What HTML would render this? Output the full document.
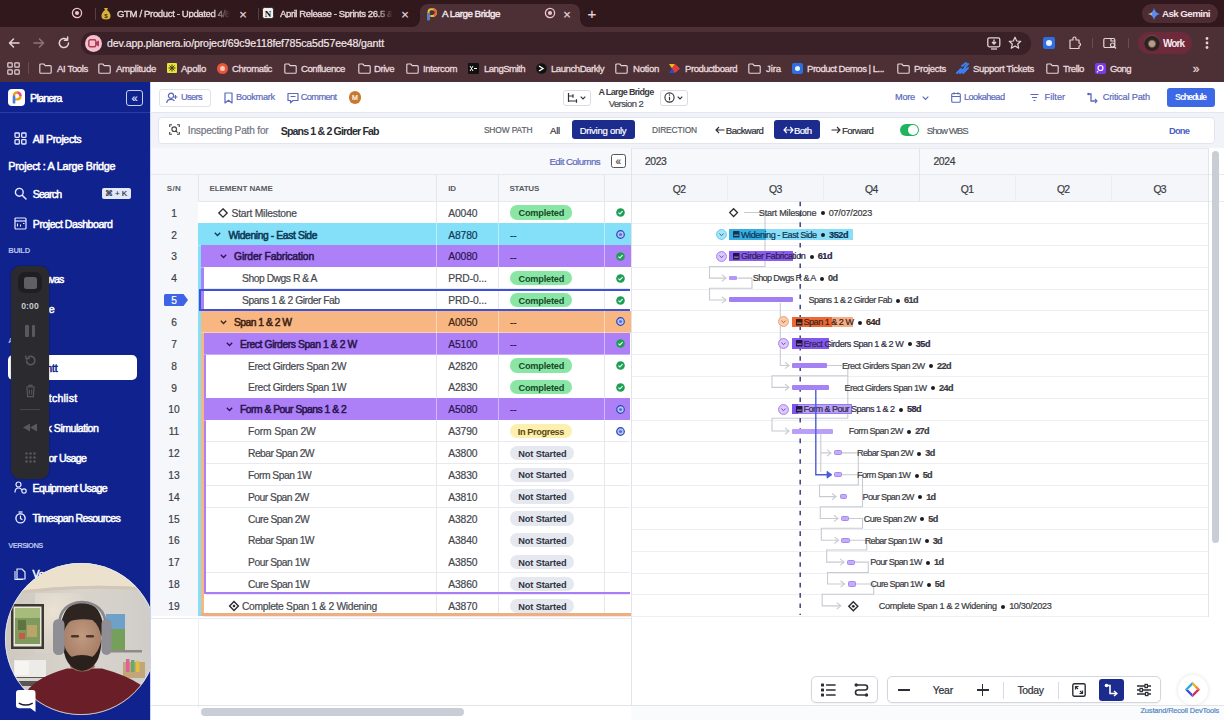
<!DOCTYPE html>
<html><head><meta charset="utf-8">
<style>
*{box-sizing:border-box;margin:0;padding:0}
html,body{width:1224px;height:720px;overflow:hidden;background:#fff;font-family:"Liberation Sans",sans-serif;position:relative}
.a{position:absolute}
.t{position:absolute;white-space:nowrap;line-height:1;-webkit-text-stroke:0.2px currentColor}
svg.a{overflow:visible}
.dt{display:inline-block;width:4px;height:4px;border-radius:50%;background:#1c1c20;margin:0 4px 0 4.4px;vertical-align:0.4px}
</style></head><body>
<div class="a" style="left:0px;top:0px;width:1224px;height:27px;background:#30181d;"></div>
<div class="a" style="left:0px;top:27px;width:1224px;height:55px;background:#4c3036;"></div>
<div class="a" style="left:412px;top:19px;width:8px;height:8px;background:#4c3036;"></div>
<div class="a" style="left:404px;top:11px;width:16px;height:16px;background:#30181d;border-radius:50%"></div>
<div class="a" style="left:580px;top:19px;width:8px;height:8px;background:#4c3036;"></div>
<div class="a" style="left:580px;top:11px;width:16px;height:16px;background:#30181d;border-radius:50%"></div>
<div class="a" style="left:420px;top:4px;width:160px;height:26px;background:#4c3036;border-radius:8px 8px 0 0"></div>
<svg class="a" style="left:70px;top:6px;" width="14" height="14" viewBox="0 0 14 14"><circle cx="7" cy="7" r="4.6" fill="none" stroke="#f0c3cb" stroke-width="1.3"/><circle cx="7" cy="7" r="2.1" fill="#f0c3cb"/></svg>
<div class="a" style="left:95px;top:8px;width:1px;height:12px;background:#5b3e44;"></div>
<svg class="a" style="left:100px;top:5px;" width="12" height="16" viewBox="0 0 12 16"><path d="M4 3 L8 3 L7 5 Q11 8 10.5 12 Q10 14.5 6 14.5 Q2 14.5 1.5 12 Q1 8 5 5Z" fill="#d6b23a"/><text x="6" y="12.5" font-size="6" text-anchor="middle" fill="#3a2a10" font-family="Liberation Sans" font-weight="bold">$</text></svg>
<div class="t" style="left:117.00px;top:8.80px;font-size:9.6px;color:#e6d5d8;letter-spacing:-0.377px;-webkit-text-stroke:0.35px currentColor;-webkit-mask-image:linear-gradient(90deg,#000 85%,transparent);">GTM / Product - Updated 4/8</div>
<div class="t" style="left:239.20px;top:7.63px;font-size:13px;color:#e6d5d8;">×</div>
<div class="a" style="left:258px;top:8px;width:1px;height:12px;background:#5b3e44;"></div>
<svg class="a" style="left:262px;top:7px;" width="12" height="12" viewBox="0 0 12 12"><rect x="0.5" y="0.5" width="11" height="11" rx="2" fill="#f4f0ef" stroke="#222" stroke-width="0.8"/><text x="6" y="9.5" font-size="9" text-anchor="middle" fill="#111" font-family="Liberation Serif" font-weight="bold">N</text></svg>
<div class="t" style="left:280.00px;top:8.80px;font-size:9.6px;color:#e6d5d8;letter-spacing:-0.428px;-webkit-text-stroke:0.35px currentColor;-webkit-mask-image:linear-gradient(90deg,#000 85%,transparent);">April Release - Sprints 26.5 &amp;</div>
<div class="t" style="left:401.20px;top:7.63px;font-size:13px;color:#e6d5d8;">×</div>
<svg class="a" style="left:425.5px;top:7.5px;" width="11" height="13" viewBox="0 0 11 13"><path d="M2.5 12 L2.5 4 Q2.5 1.2 5.2 1.2 L6.5 1.2 Q10 1.2 10 4.6 Q10 8 6.5 8 L4.3 8" fill="none" stroke="#e8c23a" stroke-width="2"/><path d="M2.5 12.5 L2.5 5" stroke="#4a7fe8" stroke-width="2.2"/><path d="M7.5 1.4 Q10 2 10 4.6 Q10 7 8 7.8" fill="none" stroke="#e8603a" stroke-width="2"/></svg>
<div class="t" style="left:442.00px;top:8.70px;font-size:9.8px;color:#f4e7ea;letter-spacing:-0.488px;-webkit-text-stroke:0.4px currentColor;">A Large Bridge</div>
<svg class="a" style="left:543px;top:6px;" width="14" height="14" viewBox="0 0 14 14"><circle cx="7" cy="7" r="4.6" fill="none" stroke="#f0c3cb" stroke-width="1.3"/><circle cx="7" cy="7" r="2.1" fill="#f0c3cb"/></svg>
<div class="t" style="left:563.20px;top:7.63px;font-size:13px;color:#e6d5d8;">×</div>
<div class="t" style="left:587.62px;top:6.35px;font-size:15px;color:#e6d5d8;">+</div>
<div class="a" style="left:1142px;top:4px;width:76px;height:19px;background:#4e2c33;border-radius:9px"></div>
<svg class="a" style="left:1148px;top:8px;" width="12" height="12" viewBox="0 0 12 12"><path d="M6 0 Q7 5 12 6 Q7 7 6 12 Q5 7 0 6 Q5 5 6 0Z" fill="#5b8def"/><path d="M0 6 Q3 5.6 4 5 L4 7 Q3 6.4 0 6Z" fill="#e6c35a"/></svg>
<div class="t" style="left:1162.00px;top:9.10px;font-size:9.8px;color:#f5e6e9;font-weight:bold;-webkit-text-stroke:0;letter-spacing:-0.591px;">Ask Gemini</div>
<svg class="a" style="left:7px;top:36px;" width="14" height="14" viewBox="0 0 14 14"><path d="M12 7 H2.5 M6.5 3 L2.5 7 L6.5 11" fill="none" stroke="#e4d3d6" stroke-width="1.5" stroke-linecap="round" stroke-linejoin="round"/></svg>
<svg class="a" style="left:32px;top:36px;" width="14" height="14" viewBox="0 0 14 14"><path d="M2 7 H11.5 M7.5 3 L11.5 7 L7.5 11" fill="none" stroke="#8e7479" stroke-width="1.5" stroke-linecap="round" stroke-linejoin="round"/></svg>
<svg class="a" style="left:57px;top:36px;" width="14" height="14" viewBox="0 0 14 14"><path d="M11.5 7 A4.6 4.6 0 1 1 10 3.6" fill="none" stroke="#e4d3d6" stroke-width="1.5" stroke-linecap="round"/><path d="M10.6 1 L10.6 4.2 L7.4 4.2" fill="none" stroke="#e4d3d6" stroke-width="1.5" stroke-linecap="round" stroke-linejoin="round"/></svg>
<div class="a" style="left:81px;top:32px;width:950px;height:23px;background:#3a2127;border-radius:12px"></div>
<div class="a" style="left:85px;top:34.5px;width:17px;height:17px;background:#f4bfce;border-radius:50%"></div>
<svg class="a" style="left:88px;top:39px;" width="12" height="9" viewBox="0 0 12 9"><rect x="0.8" y="0.8" width="7" height="7" rx="1.5" fill="none" stroke="#b23a55" stroke-width="1.4"/><path d="M8 3 L11 1.5 L11 7.5 L8 6Z" fill="#b23a55"/></svg>
<div class="t" style="left:107.00px;top:38.01px;font-size:10.6px;color:#f2e6e8;letter-spacing:-0.125px;">dev.app.planera.io/project/69c9e118fef785ca5d57ee48/gantt</div>
<svg class="a" style="left:987px;top:37px;" width="14" height="13" viewBox="0 0 14 13"><rect x="0.8" y="0.8" width="12" height="9" rx="1.5" fill="none" stroke="#e4d3d6" stroke-width="1.3"/><path d="M7 2.5 V7 M5 5 L7 7 L9 5" fill="none" stroke="#e4d3d6" stroke-width="1.3"/><path d="M4 12 H10" stroke="#e4d3d6" stroke-width="1.3"/></svg>
<svg class="a" style="left:1008px;top:36px;" width="14" height="14" viewBox="0 0 14 14"><path d="M7 1.2 L8.7 5 L12.8 5.3 L9.7 8 L10.7 12.2 L7 10 L3.3 12.2 L4.3 8 L1.2 5.3 L5.3 5Z" fill="none" stroke="#e4d3d6" stroke-width="1.2" stroke-linejoin="round"/></svg>
<div class="a" style="left:1043px;top:37px;width:12px;height:12px;background:#2f6ee0;border-radius:2px"></div>
<div class="a" style="left:1046px;top:40px;width:6px;height:6px;background:#e9f0ff;border-radius:50%"></div>
<svg class="a" style="left:1068px;top:36px;" width="14" height="14" viewBox="0 0 14 14"><path d="M2 4 H5 V2.5 Q5 1 6.5 1 Q8 1 8 2.5 V4 H11 V7 Q12.5 7 12.5 8.5 Q12.5 10 11 10 V12.5 H2 Z" fill="none" stroke="#e4d3d6" stroke-width="1.2" stroke-linejoin="round"/></svg>
<div class="a" style="left:1092px;top:38px;width:1px;height:10px;background:#6a4d53;"></div>
<svg class="a" style="left:1103px;top:37px;" width="15" height="13" viewBox="0 0 15 13"><rect x="0.8" y="1.5" width="11" height="9" rx="1.2" fill="none" stroke="#e4d3d6" stroke-width="1.2"/><path d="M8 1.5 V4 H12" fill="none" stroke="#e4d3d6" stroke-width="1.2"/><circle cx="9.5" cy="8" r="2" fill="none" stroke="#e4d3d6" stroke-width="1.1"/><path d="M11 9.5 L13 11.5" stroke="#e4d3d6" stroke-width="1.2"/></svg>
<div class="a" style="left:1128px;top:38px;width:1px;height:10px;background:#6a4d53;"></div>
<div class="a" style="left:1138px;top:32px;width:54px;height:22px;background:#6c2a3b;border-radius:11px"></div>
<div class="a" style="left:1144px;top:35px;width:16px;height:16px;border-radius:50%;background:radial-gradient(circle at 50% 55%,#b89c8a 0 22%,#2e2320 38% 62%,#5e524c 70%)"></div>
<div class="t" style="left:1163.00px;top:38.60px;font-size:10px;color:#f7e9ec;font-weight:bold;-webkit-text-stroke:0;letter-spacing:-0.957px;">Work</div>
<svg class="a" style="left:1204px;top:36px;" width="6" height="14" viewBox="0 0 6 14"><circle cx="3" cy="2.5" r="1.4" fill="#e4d3d6"/><circle cx="3" cy="7" r="1.4" fill="#e4d3d6"/><circle cx="3" cy="11.5" r="1.4" fill="#e4d3d6"/></svg>
<svg class="a" style="left:7px;top:62px;" width="13" height="13" viewBox="0 0 13 13"><g fill="none" stroke="#e4d3d6" stroke-width="1.2"><rect x="0.8" y="0.8" width="4.4" height="4.4" rx="0.8"/><rect x="7.8" y="0.8" width="4.4" height="4.4" rx="0.8"/><rect x="0.8" y="7.8" width="4.4" height="4.4" rx="0.8"/><rect x="7.8" y="7.8" width="4.4" height="4.4" rx="0.8"/></g></svg>
<div class="a" style="left:28px;top:62px;width:1px;height:12px;background:#6a4d53;"></div>
<svg class="a" style="left:38.5px;top:62.5px;" width="13" height="11" viewBox="0 0 13 11"><path d="M0.8 2 Q0.8 1 1.8 1 H4.8 L6.2 2.6 H11.2 Q12.2 2.6 12.2 3.6 V9.2 Q12.2 10.2 11.2 10.2 H1.8 Q0.8 10.2 0.8 9.2Z" fill="none" stroke="#e4d3d6" stroke-width="1.15" stroke-linejoin="round"/></svg>
<div class="t" style="left:57.00px;top:63.80px;font-size:9.6px;color:#eadbde;letter-spacing:-0.369px;-webkit-text-stroke:0.3px currentColor;">AI Tools</div>
<svg class="a" style="left:97.5px;top:62.5px;" width="13" height="11" viewBox="0 0 13 11"><path d="M0.8 2 Q0.8 1 1.8 1 H4.8 L6.2 2.6 H11.2 Q12.2 2.6 12.2 3.6 V9.2 Q12.2 10.2 11.2 10.2 H1.8 Q0.8 10.2 0.8 9.2Z" fill="none" stroke="#e4d3d6" stroke-width="1.15" stroke-linejoin="round"/></svg>
<div class="t" style="left:116.00px;top:63.80px;font-size:9.6px;color:#eadbde;letter-spacing:-0.297px;-webkit-text-stroke:0.3px currentColor;">Amplitude</div>
<div class="a" style="left:167px;top:63px;width:10px;height:10px;background:#e9e33a;border-radius:1px"></div><svg class="a" style="left:167px;top:63px" width="10" height="10"><path d="M5 1.5 V8.5 M1.5 5 H8.5 M2.5 2.5 L7.5 7.5 M7.5 2.5 L2.5 7.5" stroke="#3a3a10" stroke-width="1"/></svg>
<div class="t" style="left:181.00px;top:63.80px;font-size:9.6px;color:#eadbde;letter-spacing:-0.279px;-webkit-text-stroke:0.3px currentColor;">Apollo</div>
<div class="a" style="left:217px;top:63px;width:11px;height:11px;background:#e8563a;border-radius:50%"></div><div class="a" style="left:220px;top:66px;width:5px;height:5px;background:#f7c7b5;border-radius:50%"></div>
<div class="t" style="left:232.00px;top:63.80px;font-size:9.6px;color:#eadbde;letter-spacing:-0.413px;-webkit-text-stroke:0.3px currentColor;">Chromatic</div>
<svg class="a" style="left:283.5px;top:62.5px;" width="13" height="11" viewBox="0 0 13 11"><path d="M0.8 2 Q0.8 1 1.8 1 H4.8 L6.2 2.6 H11.2 Q12.2 2.6 12.2 3.6 V9.2 Q12.2 10.2 11.2 10.2 H1.8 Q0.8 10.2 0.8 9.2Z" fill="none" stroke="#e4d3d6" stroke-width="1.15" stroke-linejoin="round"/></svg>
<div class="t" style="left:301.00px;top:63.80px;font-size:9.6px;color:#eadbde;letter-spacing:-0.455px;-webkit-text-stroke:0.3px currentColor;">Confluence</div>
<svg class="a" style="left:357.5px;top:62.5px;" width="13" height="11" viewBox="0 0 13 11"><path d="M0.8 2 Q0.8 1 1.8 1 H4.8 L6.2 2.6 H11.2 Q12.2 2.6 12.2 3.6 V9.2 Q12.2 10.2 11.2 10.2 H1.8 Q0.8 10.2 0.8 9.2Z" fill="none" stroke="#e4d3d6" stroke-width="1.15" stroke-linejoin="round"/></svg>
<div class="t" style="left:374.00px;top:63.80px;font-size:9.6px;color:#eadbde;letter-spacing:-0.478px;-webkit-text-stroke:0.3px currentColor;">Drive</div>
<svg class="a" style="left:405.5px;top:62.5px;" width="13" height="11" viewBox="0 0 13 11"><path d="M0.8 2 Q0.8 1 1.8 1 H4.8 L6.2 2.6 H11.2 Q12.2 2.6 12.2 3.6 V9.2 Q12.2 10.2 11.2 10.2 H1.8 Q0.8 10.2 0.8 9.2Z" fill="none" stroke="#e4d3d6" stroke-width="1.15" stroke-linejoin="round"/></svg>
<div class="t" style="left:423.00px;top:63.80px;font-size:9.6px;color:#eadbde;letter-spacing:-0.416px;-webkit-text-stroke:0.3px currentColor;">Intercom</div>
<div class="a" style="left:468px;top:63px;width:11px;height:11px;background:#111;border-radius:1px"></div><svg class="a" style="left:468px;top:63px" width="11" height="11"><path d="M2 3 L5 8 M5 3 L2 8 M6 5.5 H9" stroke="#fff" stroke-width="1"/></svg>
<div class="t" style="left:484.00px;top:63.80px;font-size:9.6px;color:#eadbde;letter-spacing:-0.542px;-webkit-text-stroke:0.3px currentColor;">LangSmith</div>
<svg class="a" style="left:536px;top:63px" width="11" height="11"><circle cx="5.5" cy="5.5" r="5.3" fill="#111"/><path d="M3 3 L7 5.5 L3 8" fill="none" stroke="#fff" stroke-width="1.4"/></svg>
<div class="t" style="left:551.00px;top:63.80px;font-size:9.6px;color:#eadbde;letter-spacing:-0.473px;-webkit-text-stroke:0.3px currentColor;">LaunchDarkly</div>
<svg class="a" style="left:614.5px;top:62.5px;" width="13" height="11" viewBox="0 0 13 11"><path d="M0.8 2 Q0.8 1 1.8 1 H4.8 L6.2 2.6 H11.2 Q12.2 2.6 12.2 3.6 V9.2 Q12.2 10.2 11.2 10.2 H1.8 Q0.8 10.2 0.8 9.2Z" fill="none" stroke="#e4d3d6" stroke-width="1.15" stroke-linejoin="round"/></svg>
<div class="t" style="left:633.00px;top:63.80px;font-size:9.6px;color:#eadbde;letter-spacing:-0.289px;-webkit-text-stroke:0.3px currentColor;">Notion</div>
<svg class="a" style="left:669px;top:63px" width="11" height="11"><path d="M0 1 L6 1 L3 5.5Z" fill="#f4b41a"/><path d="M0 10 L6 10 L3 5.5Z" fill="#1d4ed8"/><path d="M6 1 L11 5.5 L6 10 L3 5.5Z" fill="#e23d3d"/></svg>
<div class="t" style="left:685.00px;top:63.80px;font-size:9.6px;color:#eadbde;letter-spacing:-0.467px;-webkit-text-stroke:0.3px currentColor;">Productboard</div>
<svg class="a" style="left:747.5px;top:62.5px;" width="13" height="11" viewBox="0 0 13 11"><path d="M0.8 2 Q0.8 1 1.8 1 H4.8 L6.2 2.6 H11.2 Q12.2 2.6 12.2 3.6 V9.2 Q12.2 10.2 11.2 10.2 H1.8 Q0.8 10.2 0.8 9.2Z" fill="none" stroke="#e4d3d6" stroke-width="1.15" stroke-linejoin="round"/></svg>
<div class="t" style="left:766.00px;top:63.80px;font-size:9.6px;color:#eadbde;letter-spacing:-0.117px;-webkit-text-stroke:0.3px currentColor;">Jira</div>
<div class="a" style="left:792px;top:63px;width:11px;height:11px;background:#2f6ee0;border-radius:2px"></div><div class="a" style="left:795px;top:66px;width:5px;height:5px;background:#e9f0ff;border-radius:50%"></div>
<div class="t" style="left:807.00px;top:63.80px;font-size:9.6px;color:#eadbde;letter-spacing:-0.514px;-webkit-text-stroke:0.3px currentColor;">Product Demos | L...</div>
<svg class="a" style="left:896.5px;top:62.5px;" width="13" height="11" viewBox="0 0 13 11"><path d="M0.8 2 Q0.8 1 1.8 1 H4.8 L6.2 2.6 H11.2 Q12.2 2.6 12.2 3.6 V9.2 Q12.2 10.2 11.2 10.2 H1.8 Q0.8 10.2 0.8 9.2Z" fill="none" stroke="#e4d3d6" stroke-width="1.15" stroke-linejoin="round"/></svg>
<div class="t" style="left:914.00px;top:63.80px;font-size:9.6px;color:#eadbde;letter-spacing:-0.332px;-webkit-text-stroke:0.3px currentColor;">Projects</div>
<svg class="a" style="left:956px;top:62px" width="13" height="12"><path d="M1 11 L5 7 M4 11 L9 6 M7 11 L12 6 M6 4 L10 1 M9 5 L12 2" stroke="#3b82f6" stroke-width="2" stroke-linecap="round"/></svg>
<div class="t" style="left:973.00px;top:63.80px;font-size:9.6px;color:#eadbde;letter-spacing:-0.342px;-webkit-text-stroke:0.3px currentColor;">Support Tickets</div>
<svg class="a" style="left:1045.5px;top:62.5px;" width="13" height="11" viewBox="0 0 13 11"><path d="M0.8 2 Q0.8 1 1.8 1 H4.8 L6.2 2.6 H11.2 Q12.2 2.6 12.2 3.6 V9.2 Q12.2 10.2 11.2 10.2 H1.8 Q0.8 10.2 0.8 9.2Z" fill="none" stroke="#e4d3d6" stroke-width="1.15" stroke-linejoin="round"/></svg>
<div class="t" style="left:1063.00px;top:63.80px;font-size:9.6px;color:#eadbde;letter-spacing:-0.440px;-webkit-text-stroke:0.3px currentColor;">Trello</div>
<div class="a" style="left:1095px;top:63px;width:11px;height:11px;background:#7c3aed;border-radius:2px"></div><svg class="a" style="left:1095px;top:63px" width="11" height="11"><circle cx="5.5" cy="5" r="2.5" fill="none" stroke="#fff" stroke-width="1.2"/><path d="M3 8 L2 9.5" stroke="#fff" stroke-width="1.2"/></svg>
<div class="t" style="left:1110.00px;top:63.80px;font-size:9.6px;color:#eadbde;letter-spacing:-0.621px;-webkit-text-stroke:0.3px currentColor;">Gong</div>
<div class="t" style="left:1192.66px;top:63.22px;font-size:12px;color:#eadbde;">»</div>
<div class="a" style="left:0px;top:82px;width:150px;height:638px;background:#10228e;"></div>
<div class="a" style="left:0px;top:112px;width:150px;height:1px;background:#2a3aa8;"></div>
<div class="a" style="left:8px;top:89px;width:17px;height:17px;background:#fff;border-radius:4px"></div>
<svg class="a" style="left:11px;top:91px;" width="11" height="13" viewBox="0 0 11 13"><path d="M3 12 L3 4.5 Q3 1.5 6 1.5 Q9.5 1.5 9.5 5 Q9.5 8.3 6 8.3 L4 8.3" fill="none" stroke="#f59e0b" stroke-width="2.3"/><path d="M3 12.5 L3 4.5" stroke="#3b82f6" stroke-width="2.5"/><path d="M6.5 1.6 Q9.5 2 9.5 5" fill="none" stroke="#ec4899" stroke-width="2.3"/></svg>
<div class="t" style="left:30.00px;top:92.81px;font-size:11px;color:#fff;letter-spacing:-0.917px;-webkit-text-stroke:0.5px currentColor;">Planera</div>
<div class="a" style="left:126px;top:89.5px;width:17px;height:16.5px;background:transparent;border:1px solid #c9d0f0;border-radius:3px"></div>
<div class="t" style="left:131.44px;top:92.61px;font-size:11px;color:#e6eaff;">«</div>
<svg class="a" style="left:14px;top:132.1px;" width="13" height="13" viewBox="0 0 13 13"><g fill="none" stroke="#e8ecff" stroke-width="1.3"><rect x="1" y="1" width="4.3" height="4.3" rx="0.8"/><rect x="7.7" y="1" width="4.3" height="4.3" rx="0.8"/><rect x="1" y="7.7" width="4.3" height="4.3" rx="0.8"/><rect x="7.7" y="7.7" width="4.3" height="4.3" rx="0.8"/></g></svg>
<div class="t" style="left:32.80px;top:134.11px;font-size:10.6px;color:#ffffff;letter-spacing:-0.374px;-webkit-text-stroke:0.5px currentColor;">All Projects</div>
<div class="t" style="left:8.30px;top:160.91px;font-size:10.8px;color:#ffffff;letter-spacing:-0.268px;-webkit-text-stroke:0.5px currentColor;">Project : A Large Bridge</div>
<svg class="a" style="left:14px;top:186.8px;" width="13" height="13" viewBox="0 0 13 13"><circle cx="5.3" cy="5.3" r="3.9" fill="none" stroke="#e8ecff" stroke-width="1.4"/><path d="M8.2 8.2 L12 12" stroke="#e8ecff" stroke-width="1.5" stroke-linecap="round"/></svg>
<div class="t" style="left:32.80px;top:188.51px;font-size:10.6px;color:#ffffff;letter-spacing:-0.846px;-webkit-text-stroke:0.5px currentColor;">Search</div>
<div class="a" style="left:101.5px;top:188px;width:29px;height:11px;background:#e3e8f8;border-radius:2px"></div>
<div class="t" style="left:105.00px;top:190.28px;font-size:8px;color:#2a2f45;letter-spacing:-0.091px;">⌘ + K</div>
<svg class="a" style="left:14px;top:216.8px;" width="13" height="13" viewBox="0 0 13 13"><rect x="1" y="1" width="11" height="11" rx="1" fill="none" stroke="#e8ecff" stroke-width="1.2"/><path d="M1 4 H12" stroke="#e8ecff" stroke-width="1.2"/><path d="M3.5 6.5 V9.5 M6.5 7.5 V9.5 M9 6.5 H10.5" stroke="#e8ecff" stroke-width="1.1"/></svg>
<div class="t" style="left:32.80px;top:218.81px;font-size:10.6px;color:#ffffff;letter-spacing:-0.485px;-webkit-text-stroke:0.5px currentColor;">Project Dashboard</div>
<div class="t" style="left:8.30px;top:247.48px;font-size:7.6px;color:#b9c2ee;font-weight:bold;-webkit-text-stroke:0;letter-spacing:-0.341px;">BUILD</div>
<div class="t" style="left:32.80px;top:273.51px;font-size:10.6px;color:#ffffff;letter-spacing:-0.904px;-webkit-text-stroke:0.5px currentColor;">Canvas</div>
<div class="t" style="left:32.80px;top:303.51px;font-size:10.6px;color:#ffffff;letter-spacing:0.152px;-webkit-text-stroke:0.5px currentColor;">Tree</div>
<div class="t" style="left:8.30px;top:336.98px;font-size:7.6px;color:#b9c2ee;font-weight:bold;-webkit-text-stroke:0;letter-spacing:0.118px;">ANALYZE</div>
<div class="a" style="left:8px;top:355px;width:129px;height:25px;background:#fff;border-radius:5px"></div>
<div class="t" style="left:32.80px;top:363.31px;font-size:10.6px;color:#10228e;letter-spacing:-0.284px;-webkit-text-stroke:0.5px currentColor;">Gantt</div>
<div class="t" style="left:32.80px;top:392.51px;font-size:10.6px;color:#ffffff;letter-spacing:0.214px;-webkit-text-stroke:0.5px currentColor;">Watchlist</div>
<div class="t" style="left:32.80px;top:422.51px;font-size:10.6px;color:#ffffff;letter-spacing:-0.501px;-webkit-text-stroke:0.5px currentColor;">Risk Simulation</div>
<div class="t" style="left:32.80px;top:452.51px;font-size:10.6px;color:#ffffff;letter-spacing:-0.652px;-webkit-text-stroke:0.5px currentColor;">Labor Usage</div>
<svg class="a" style="left:14px;top:480.5px;" width="13" height="13" viewBox="0 0 13 13"><circle cx="4.5" cy="3.5" r="2.5" fill="none" stroke="#e8ecff" stroke-width="1.2"/><path d="M1 11.5 Q1 7 4.5 7 Q7 7 8 9" fill="none" stroke="#e8ecff" stroke-width="1.2"/><circle cx="10" cy="10" r="2.2" fill="none" stroke="#e8ecff" stroke-width="1.2"/></svg>
<div class="t" style="left:32.50px;top:482.51px;font-size:10.6px;color:#ffffff;letter-spacing:-0.648px;-webkit-text-stroke:0.5px currentColor;">Equipment Usage</div>
<svg class="a" style="left:14px;top:510.5px;" width="13" height="13" viewBox="0 0 13 13"><circle cx="6.5" cy="7.3" r="4.6" fill="none" stroke="#e8ecff" stroke-width="1.4"/><path d="M6.5 4.6 V7.6 L8.5 8.8" fill="none" stroke="#e8ecff" stroke-width="1.2"/><path d="M4.5 1 H8.5" stroke="#e8ecff" stroke-width="1.3"/></svg>
<div class="t" style="left:32.50px;top:512.51px;font-size:10.6px;color:#ffffff;letter-spacing:-0.678px;-webkit-text-stroke:0.5px currentColor;">Timespan Resources</div>
<div class="t" style="left:8.30px;top:542.48px;font-size:7.6px;color:#b9c2ee;font-weight:bold;-webkit-text-stroke:0;letter-spacing:-0.594px;">VERSIONS</div>
<svg class="a" style="left:14px;top:566.5px;" width="13" height="13" viewBox="0 0 13 13"><path d="M3 2 H8 L11 5 V12 H3Z" fill="none" stroke="#e8ecff" stroke-width="1.2"/><path d="M1 4 V12.5 H9" fill="none" stroke="#e8ecff" stroke-width="1.1"/></svg>
<div class="t" style="left:32.50px;top:568.51px;font-size:10.6px;color:#ffffff;letter-spacing:-0.330px;-webkit-text-stroke:0.5px currentColor;">Versions</div>
<div class="a" style="left:10.5px;top:265.5px;width:38.5px;height:213.5px;background:#2b2b2f;border-radius:9px;box-shadow:0 0 2px rgba(0,0,0,.4)"></div>
<div class="a" style="left:18px;top:272px;width:24px;height:21px;background:#1f1f23;border-radius:7px"></div>
<div class="a" style="left:23.5px;top:276.5px;width:13px;height:12px;background:#5f5f64;border-radius:2.5px"></div>
<div class="t" style="left:21.25px;top:302.09px;font-size:8.6px;color:#c9c9cd;font-weight:bold;-webkit-text-stroke:0;letter-spacing:0.074px;">0:00</div>
<div class="a" style="left:25px;top:325px;width:3.6px;height:11.5px;background:#58585d;border-radius:1px"></div>
<div class="a" style="left:31.5px;top:325px;width:3.6px;height:11.5px;background:#58585d;border-radius:1px"></div>
<svg class="a" style="left:23.5px;top:353.5px;" width="13" height="13" viewBox="0 0 13 13"><path d="M2.5 6.5 A4.2 4.2 0 1 0 4 3.3" fill="none" stroke="#58585d" stroke-width="1.6"/><path d="M1.5 1.5 L2.5 5 L5.8 4" fill="none" stroke="#58585d" stroke-width="1.4"/></svg>
<svg class="a" style="left:24.5px;top:384px;" width="11" height="14" viewBox="0 0 11 14"><path d="M1 3 H10 M4 3 V1.3 H7 V3" fill="none" stroke="#58585d" stroke-width="1.2"/><path d="M2 3.5 L2.6 12.6 H8.4 L9 3.5" fill="none" stroke="#58585d" stroke-width="1.2"/><path d="M4.3 5.5 V10.5 M6.7 5.5 V10.5" stroke="#58585d" stroke-width="1"/></svg>
<div class="a" style="left:20px;top:408.5px;width:20px;height:1px;background:#45454a;"></div>
<svg class="a" style="left:22px;top:422.5px;" width="16" height="9" viewBox="0 0 16 9"><path d="M8 0.5 L1 4.5 L8 8.5Z M15 0.5 L8 4.5 L15 8.5Z" fill="#58585d"/></svg>
<svg class="a" style="left:24.5px;top:451.5px;" width="11" height="11" viewBox="0 0 11 11"><g fill="#58585d"><circle cx="1.5" cy="1.5" r="1.2"/><circle cx="5.5" cy="1.5" r="1.2"/><circle cx="9.5" cy="1.5" r="1.2"/><circle cx="1.5" cy="5.5" r="1.2"/><circle cx="5.5" cy="5.5" r="1.2"/><circle cx="9.5" cy="5.5" r="1.2"/><circle cx="1.5" cy="9.5" r="1.2"/><circle cx="5.5" cy="9.5" r="1.2"/><circle cx="9.5" cy="9.5" r="1.2"/></g></svg>
<svg class="a" style="left:5px;top:562.5px" width="152" height="152" viewBox="0 0 152 152">
<defs><clipPath id="cc"><circle cx="76" cy="76" r="76"/></clipPath>
<radialGradient id="face" cx="50%" cy="40%" r="60%"><stop offset="0" stop-color="#c29a80"/><stop offset="1" stop-color="#a27a62"/></radialGradient>
<radialGradient id="lamp" cx="30%" cy="30%" r="60%"><stop offset="0" stop-color="#f3ead8"/><stop offset="1" stop-color="#d8d2c9"/></radialGradient>
<linearGradient id="wall" x1="0" y1="0" x2="1" y2="0"><stop offset="0" stop-color="#cdc8c0"/><stop offset="0.5" stop-color="#d9d4cc"/><stop offset="1" stop-color="#cfccc8"/></linearGradient>
</defs>
<g clip-path="url(#cc)">
<rect width="152" height="152" fill="url(#wall)"/>
<rect x="30" y="30" width="60" height="60" fill="url(#lamp)" opacity="0.7"/>
<path d="M0 0 H152 V26 Q80 18 0 30Z" fill="#ece1cc"/>
<path d="M0 30 Q80 18 152 26 V29 Q80 21 0 33Z" fill="#d2c7b6"/>
<rect x="6" y="41" width="33" height="45" fill="#3d3731"/>
<rect x="8.5" y="43.5" width="28" height="40" fill="#e9e6dc"/>
<rect x="10" y="45" width="25" height="36" fill="#7f9a5c"/>
<rect x="10" y="45" width="25" height="10" fill="#a7bb7c"/>
<rect x="13" y="57" width="8" height="10" fill="#5f7440"/>
<rect x="22" y="62" width="10" height="12" fill="#b9a56a"/>
<rect x="14" y="70" width="6" height="6" fill="#c45a4a"/>
<rect x="101" y="51" width="19" height="36" fill="#6fa0c8"/>
<rect x="101" y="66" width="19" height="21" fill="#74a05c"/>
<rect x="99" y="87" width="38" height="2.5" fill="#8f8a85"/>
<rect x="9" y="97" width="32" height="18" fill="#ecebe7"/>
<rect x="10" y="98" width="14" height="14" fill="#f6f5f2"/>
<rect x="5" y="114" width="42" height="9" fill="#5a5552"/>
<rect x="6" y="115" width="40" height="3" fill="#d9d7d2"/>
<rect x="118" y="99" width="22" height="16" fill="#c2a67a"/>
<rect x="121" y="96" width="3.5" height="13" fill="#e0609a"/>
<rect x="126" y="97" width="3.5" height="12" fill="#6aa86a"/>
<rect x="131" y="98" width="3.5" height="11" fill="#e0c040"/>
<path d="M16 152 L22 128 Q32 114 62 105.5 L97 105.5 Q121 112 136 122 L142 152Z" fill="#6a1f28"/>
<path d="M65 104 Q77 113 90 104 L88 98 L67 98Z" fill="#9c705a"/>
<ellipse cx="77" cy="64" rx="21" ry="24" fill="#2e2520"/><ellipse cx="77" cy="78" rx="19.5" ry="25" fill="url(#face)"/>
<path d="M57.5 76 Q58 106 77 108 Q96 106 96.5 76 Q93 96 77 98 Q61 96 57.5 76Z" fill="#2a201c"/>
<path d="M66 94 Q77 90 88 94 Q86 101 77 102 Q68 101 66 94Z" fill="#2a201c"/>
<path d="M57.5 68 Q55 40 77 40 Q99 40 96.5 68 Q95 58 88 57 Q72 55 63 59 Q58.5 62 57.5 68Z" fill="#2e2520"/>
<path d="M54 62 Q55 40 77 39 Q99 40 101 62" fill="none" stroke="#86868c" stroke-width="2.5"/>
<rect x="48" y="56" width="11.5" height="36" rx="5.5" fill="#8e8e94"/>
<rect x="96.5" y="56" width="10" height="36" rx="5" fill="#8e8e94"/>
<rect x="66" y="72" width="8" height="2.6" rx="1.3" fill="#4a352c"/>
<rect x="81" y="72" width="8" height="2.6" rx="1.3" fill="#4a352c"/>
</g>
<circle cx="76" cy="76" r="75.6" fill="none" stroke="#e3e8f4" stroke-width="0.8"/>
</svg>
<svg class="a" style="left:15.5px;top:689.8px;" width="20" height="22" viewBox="0 0 20 22"><path d="M3 0 H16.5 Q19.5 0 19.5 3 V22 L14.5 18.3 H3 Q0 18.3 0 15.3 V3 Q0 0 3 0Z" fill="#fff"/><path d="M3.3 13.3 Q9.8 16.8 16.2 13.3" fill="none" stroke="#1a1f3a" stroke-width="1.4" stroke-linecap="round"/></svg>
<div class="a" style="left:150px;top:82px;width:1074px;height:638px;background:#ffffff;"></div>
<div class="a" style="left:150px;top:82px;width:1px;height:638px;background:#c9d2f0;"></div>
<div class="a" style="left:150px;top:111.5px;width:1074px;height:1px;background:#e3e6ee;"></div>
<div class="a" style="left:158.5px;top:88.5px;width:52.5px;height:18px;background:#fff;border:1px solid #dfe3ec;border-radius:3px"></div>
<svg class="a" style="left:166px;top:91.5px;" width="12" height="12" viewBox="0 0 12 12"><circle cx="5" cy="3.8" r="2.6" fill="none" stroke="#5a69bd" stroke-width="1.2"/><path d="M0.8 11 Q0.8 7.4 5 7.4 Q7.5 7.4 8.5 9" fill="none" stroke="#5a69bd" stroke-width="1.2"/><path d="M9.5 3 V7 M7.5 5 H11.5" stroke="#5a69bd" stroke-width="1.1"/></svg>
<div class="t" style="left:181.00px;top:93.09px;font-size:9.2px;color:#5a69bd;letter-spacing:-0.600px;">Users</div>
<svg class="a" style="left:223.5px;top:91.5px;" width="9" height="12" viewBox="0 0 9 12"><path d="M1 1 H8 V11 L4.5 8.3 L1 11Z" fill="none" stroke="#5a69bd" stroke-width="1.2" stroke-linejoin="round"/></svg>
<div class="t" style="left:236.00px;top:93.09px;font-size:9.2px;color:#5a69bd;letter-spacing:-0.332px;">Bookmark</div>
<svg class="a" style="left:287px;top:91.5px;" width="12" height="12" viewBox="0 0 12 12"><path d="M1 1.5 H11 V8.5 H6 L3.5 10.8 V8.5 H1Z" fill="none" stroke="#5a69bd" stroke-width="1.2" stroke-linejoin="round"/><path d="M3.5 4.5 H8.5" stroke="#5a69bd" stroke-width="1"/></svg>
<div class="t" style="left:300.80px;top:93.09px;font-size:9.2px;color:#5a69bd;letter-spacing:-0.590px;">Comment</div>
<div class="a" style="left:348.8px;top:91.3px;width:12.4px;height:12.4px;background:#c8792f;border-radius:50%"></div>
<div class="t" style="left:352.08px;top:94.17px;font-size:7px;color:#fff;">M</div>
<div class="a" style="left:562.5px;top:89.5px;width:28px;height:16.5px;background:#fff;border:1px solid #d9dce4;border-radius:3px"></div>
<svg class="a" style="left:567px;top:92px;" width="11" height="11" viewBox="0 0 11 11"><path d="M1.5 1 V10 M1.5 4 H6 M6 2.3 V5.7 M1.5 9 H9.5 M9.5 7.3 V10.7" fill="none" stroke="#333" stroke-width="1.2"/></svg>
<svg class="a" style="left:580px;top:95.5px;" width="6" height="4" viewBox="0 0 6 4"><path d="M0.7 0.7 L3 3 L5.3 0.7" fill="none" stroke="#333" stroke-width="1.1"/></svg>
<div class="t" style="left:598.50px;top:87.59px;font-size:9.0px;color:#3a3b42;font-weight:bold;-webkit-text-stroke:0;letter-spacing:-0.656px;">A Large Bridge</div>
<div class="t" style="left:608.65px;top:99.49px;font-size:9.4px;color:#44464d;letter-spacing:-0.488px;">Version 2</div>
<div class="a" style="left:659.5px;top:89.5px;width:28px;height:16.5px;background:#fff;border:1px solid #d9dce4;border-radius:3px"></div>
<svg class="a" style="left:663.5px;top:92px;" width="11" height="11" viewBox="0 0 11 11"><circle cx="5.5" cy="5.5" r="4.6" fill="none" stroke="#333" stroke-width="1.1"/><path d="M5.5 4.8 V8.3" stroke="#333" stroke-width="1.2"/><circle cx="5.5" cy="3.1" r="0.75" fill="#333"/></svg>
<svg class="a" style="left:677px;top:95.5px;" width="6" height="4" viewBox="0 0 6 4"><path d="M0.7 0.7 L3 3 L5.3 0.7" fill="none" stroke="#333" stroke-width="1.1"/></svg>
<div class="t" style="left:895.00px;top:93.09px;font-size:9.2px;color:#5a69bd;letter-spacing:-0.234px;">More</div>
<svg class="a" style="left:922px;top:95.5px;" width="7" height="4.5" viewBox="0 0 7 4.5"><path d="M0.7 0.7 L3.5 3.5 L6.3 0.7" fill="none" stroke="#5a69bd" stroke-width="1.1"/></svg>
<svg class="a" style="left:950.5px;top:92px;" width="10" height="11" viewBox="0 0 10 11"><rect x="0.7" y="1.5" width="8.6" height="8.8" rx="1" fill="none" stroke="#5a69bd" stroke-width="1.1"/><path d="M0.7 4.5 H9.3 M3 0.3 V2.5 M7 0.3 V2.5" stroke="#5a69bd" stroke-width="1.1"/></svg>
<div class="t" style="left:964.00px;top:93.09px;font-size:9.2px;color:#5a69bd;letter-spacing:-0.554px;">Lookahead</div>
<svg class="a" style="left:1030px;top:93px;" width="9" height="9" viewBox="0 0 9 9"><path d="M0.5 1.5 H8.5 M2 4.5 H7 M3.5 7.5 H5.5" stroke="#5a69bd" stroke-width="1.2"/></svg>
<div class="t" style="left:1044.60px;top:93.09px;font-size:9.2px;color:#5a69bd;letter-spacing:0.013px;">Filter</div>
<svg class="a" style="left:1086.5px;top:92px;" width="11" height="11" viewBox="0 0 11 11"><path d="M1 2 H4 V9 H10" fill="none" stroke="#5a69bd" stroke-width="1.3"/><circle cx="1.5" cy="2" r="1.3" fill="#5a69bd"/><path d="M8 7 L10 9 L8 11" fill="none" stroke="#5a69bd" stroke-width="1.1"/></svg>
<div class="t" style="left:1102.70px;top:93.09px;font-size:9.2px;color:#5a69bd;letter-spacing:-0.179px;">Critical Path</div>
<div class="a" style="left:1166.5px;top:88px;width:48px;height:19px;background:#3d69e6;border-radius:3px"></div>
<div class="t" style="left:1175.00px;top:93.49px;font-size:9.0px;color:#fff;font-weight:bold;-webkit-text-stroke:0;letter-spacing:-1.127px;">Schedule</div>
<div class="a" style="left:151px;top:112.5px;width:1073px;height:35.5px;background:#f1f3f9;"></div>
<div class="a" style="left:158.2px;top:117px;width:1056.5px;height:26.5px;background:#fff;border:1px solid #e2e5ee;border-radius:4px"></div>
<svg class="a" style="left:169px;top:124px;" width="11" height="11" viewBox="0 0 11 11"><path d="M0.7 3 V0.7 H3 M8 0.7 H10.3 V3 M10.3 8 V10.3 H8 M3 10.3 H0.7 V8" fill="none" stroke="#444" stroke-width="1.1"/><circle cx="5.2" cy="5.2" r="2.3" fill="none" stroke="#444" stroke-width="1.1"/><path d="M6.8 6.8 L8.6 8.6" stroke="#444" stroke-width="1.2"/></svg>
<div class="t" style="left:187.80px;top:126.00px;font-size:10.2px;color:#72757f;letter-spacing:-0.224px;">Inspecting Path for</div>
<div class="t" style="left:280.70px;top:125.81px;font-size:10.6px;color:#2a2c33;font-weight:bold;-webkit-text-stroke:0;letter-spacing:-0.844px;">Spans 1 &amp; 2 Girder Fab</div>
<div class="t" style="left:483.90px;top:126.48px;font-size:8.4px;color:#5c5f68;letter-spacing:-0.109px;">SHOW PATH</div>
<div class="t" style="left:550.00px;top:126.00px;font-size:9.6px;color:#2e2f36;letter-spacing:-0.224px;">All</div>
<div class="a" style="left:571.5px;top:120.4px;width:63px;height:19px;background:#1c2b8e;border-radius:3px"></div>
<div class="t" style="left:579.65px;top:126.00px;font-size:9.6px;color:#fff;letter-spacing:-0.285px;">Driving only</div>
<div class="t" style="left:652.00px;top:126.48px;font-size:8.4px;color:#5c5f68;letter-spacing:-0.118px;">DIRECTION</div>
<svg class="a" style="left:714.5px;top:126px;" width="10" height="8" viewBox="0 0 10 8"><path d="M9.5 4 H1 M4 1 L1 4 L4 7" fill="none" stroke="#2e2f36" stroke-width="1.1"/></svg>
<div class="t" style="left:725.80px;top:126.00px;font-size:9.6px;color:#2e2f36;letter-spacing:-0.566px;">Backward</div>
<div class="a" style="left:774.3px;top:120.2px;width:45.4px;height:19px;background:#1c2b8e;border-radius:3px"></div>
<svg class="a" style="left:782.5px;top:126px;" width="11" height="8" viewBox="0 0 11 8"><path d="M1 4 H10 M3.8 1 L1 4 L3.8 7 M7.2 1 L10 4 L7.2 7" fill="none" stroke="#fff" stroke-width="1.1"/></svg>
<div class="t" style="left:794.00px;top:126.00px;font-size:9.6px;color:#fff;letter-spacing:-0.588px;">Both</div>
<svg class="a" style="left:830.5px;top:126px;" width="10" height="8" viewBox="0 0 10 8"><path d="M0.5 4 H9 M6 1 L9 4 L6 7" fill="none" stroke="#2e2f36" stroke-width="1.1"/></svg>
<div class="t" style="left:842.00px;top:126.00px;font-size:9.6px;color:#2e2f36;letter-spacing:-0.541px;">Forward</div>
<div class="a" style="left:899.6px;top:123.7px;width:19.2px;height:12.2px;background:#22b35e;border-radius:6px"></div>
<div class="a" style="left:907.8px;top:124.9px;width:9.8px;height:9.8px;background:#fff;border-radius:50%"></div>
<div class="t" style="left:926.70px;top:126.00px;font-size:9.6px;color:#5c5f68;letter-spacing:-0.941px;">Show WBS</div>
<div class="t" style="left:1169.00px;top:126.09px;font-size:9.4px;color:#4a5fc4;font-weight:bold;-webkit-text-stroke:0;letter-spacing:-0.859px;">Done</div>
<div class="a" style="left:151px;top:148px;width:480px;height:26px;background:#f7f8fb;"></div>
<div class="a" style="left:151px;top:174px;width:480px;height:27px;background:#f6f7fa;"></div>
<div class="a" style="left:151px;top:148px;width:1px;height:470px;background:#f6f7fa;"></div>
<div class="a" style="left:151px;top:174px;width:1073px;height:1px;background:#e6e8ee;"></div>
<div class="a" style="left:151px;top:200.5px;width:1073px;height:1px;background:#e6e8ee;"></div>
<div class="a" style="left:151px;top:201px;width:47px;height:415px;background:#f6f7fb;"></div>
<div class="a" style="left:198px;top:174px;width:1px;height:27px;background:#e4e6ec;"></div>
<div class="a" style="left:436.3px;top:174px;width:1px;height:27px;background:#e4e6ec;"></div>
<div class="a" style="left:498.4px;top:174px;width:1px;height:27px;background:#e4e6ec;"></div>
<div class="a" style="left:604.3px;top:174px;width:1px;height:27px;background:#e4e6ec;"></div>
<div class="t" style="left:549.40px;top:157.00px;font-size:9.6px;color:#5a69bd;letter-spacing:-0.539px;">Edit Columns</div>
<div class="a" style="left:611px;top:154px;width:14.5px;height:13.5px;background:#fff;border:1px solid #555;border-radius:2.5px"></div>
<div class="t" style="left:615.52px;top:156.60px;font-size:10px;color:#444;">«</div>
<div class="t" style="left:166.80px;top:185.28px;font-size:8.0px;color:#585b63;font-weight:bold;-webkit-text-stroke:0;letter-spacing:0.352px;">S/N</div>
<div class="t" style="left:209.50px;top:185.28px;font-size:8.0px;color:#585b63;font-weight:bold;-webkit-text-stroke:0;letter-spacing:-0.067px;">ELEMENT NAME</div>
<div class="t" style="left:448.20px;top:185.28px;font-size:8.0px;color:#585b63;font-weight:bold;-webkit-text-stroke:0;letter-spacing:-0.250px;">ID</div>
<div class="t" style="left:509.50px;top:185.28px;font-size:8.0px;color:#585b63;font-weight:bold;-webkit-text-stroke:0;letter-spacing:-0.219px;">STATUS</div>
<div class="a" style="left:198.2px;top:245.3px;width:2.9px;height:371.15px;background:#84dff8;"></div>
<div class="a" style="left:201px;top:267.15px;width:2.6px;height:43.700000000000045px;background:#ad80f8;"></div>
<div class="a" style="left:201px;top:332.70000000000005px;width:2.8px;height:283.74999999999994px;background:#f7b682;"></div>
<div class="a" style="left:203.8px;top:354.55px;width:2.4px;height:43.69999999999999px;background:#ad80f8;"></div>
<div class="a" style="left:203.8px;top:420.1px;width:2.4px;height:174.19999999999996px;background:#ad80f8;"></div>
<div class="a" style="left:198px;top:201.6px;width:432.5px;height:21.85px;background:#fff;"></div>
<div class="a" style="left:198px;top:222.85px;width:432.5px;height:0.8px;background:#e8eaef;"></div>
<div class="a" style="left:436.3px;top:201.6px;width:0.8px;height:21.85px;background:#e6e8ee;"></div>
<div class="a" style="left:498.4px;top:201.6px;width:0.8px;height:21.85px;background:#e6e8ee;"></div>
<div class="a" style="left:604.3px;top:201.6px;width:0.8px;height:21.85px;background:#e6e8ee;"></div>
<div class="t" style="left:171.16px;top:208.73px;font-size:10.2px;color:#3c3e46;">1</div>
<div class="t" style="left:231.50px;top:208.68px;font-size:10.3px;color:#46484f;letter-spacing:-0.226px;">Start Milestone</div>
<div class="t" style="left:448.20px;top:208.68px;font-size:10.3px;color:#44464d;letter-spacing:-0.100px;">A0040</div>
<div class="a" style="left:510.2px;top:205.425px;width:62.3px;height:14.2px;background:#8ae6a4;border-radius:7.1px"></div>
<div class="t" style="left:518.50px;top:209.22px;font-size:9.2px;color:#174a29;font-weight:bold;-webkit-text-stroke:0;letter-spacing:-0.198px;">Completed</div>
<svg class="a" style="left:616.2px;top:208.125px;" width="9" height="9" viewBox="0 0 9 9"><circle cx="4.5" cy="4.5" r="4.3" fill="#1d9e55"/><path d="M2.4 4.6 L3.9 6 L6.6 3.2" fill="none" stroke="#e9fff1" stroke-width="1.2"/></svg>
<div class="a" style="left:198px;top:223.45px;width:432.5px;height:21.85px;background:#84dff8;"></div>
<div class="a" style="left:198px;top:244.7px;width:432.5px;height:0.8px;background:rgba(255,255,255,.35);"></div>
<div class="a" style="left:436.3px;top:223.45px;width:0.8px;height:21.85px;background:rgba(255,255,255,.45);"></div>
<div class="a" style="left:498.4px;top:223.45px;width:0.8px;height:21.85px;background:rgba(255,255,255,.45);"></div>
<div class="a" style="left:604.3px;top:223.45px;width:0.8px;height:21.85px;background:rgba(255,255,255,.45);"></div>
<div class="t" style="left:171.16px;top:230.58px;font-size:10.2px;color:#3c3e46;">2</div>
<svg class="a" style="left:213.5px;top:232.375px;" width="7" height="5" viewBox="0 0 7 5"><path d="M0.8 0.8 L3.5 3.5 L6.2 0.8" fill="none" stroke="#0c3957" stroke-width="1.3"/></svg>
<div class="t" style="left:228.50px;top:230.53px;font-size:10.3px;color:#0c3957;letter-spacing:-0.383px;-webkit-text-stroke:0.55px currentColor;">Widening - East Side</div>
<div class="t" style="left:448.20px;top:230.53px;font-size:10.3px;color:#0c3957;letter-spacing:-0.100px;">A8780</div>
<div class="t" style="left:510.00px;top:230.67px;font-size:10px;color:#0c3957;">--</div>
<svg class="a" style="left:616.2px;top:229.975px;" width="9" height="9" viewBox="0 0 9 9"><circle cx="4.5" cy="4.5" r="3.8" fill="#b9c5f5" stroke="#2747b8" stroke-width="1.2"/><circle cx="4.5" cy="4.5" r="1.6" fill="#5670d8"/></svg>
<div class="a" style="left:201px;top:245.3px;width:429.5px;height:21.85px;background:#ad80f8;"></div>
<div class="a" style="left:201px;top:266.55px;width:429.5px;height:0.8px;background:rgba(255,255,255,.35);"></div>
<div class="a" style="left:436.3px;top:245.3px;width:0.8px;height:21.85px;background:rgba(255,255,255,.45);"></div>
<div class="a" style="left:498.4px;top:245.3px;width:0.8px;height:21.85px;background:rgba(255,255,255,.45);"></div>
<div class="a" style="left:604.3px;top:245.3px;width:0.8px;height:21.85px;background:rgba(255,255,255,.45);"></div>
<div class="t" style="left:171.16px;top:252.43px;font-size:10.2px;color:#3c3e46;">3</div>
<svg class="a" style="left:219.5px;top:254.22500000000002px;" width="7" height="5" viewBox="0 0 7 5"><path d="M0.8 0.8 L3.5 3.5 L6.2 0.8" fill="none" stroke="#2a1650" stroke-width="1.3"/></svg>
<div class="t" style="left:234.00px;top:252.38px;font-size:10.3px;color:#2a1650;letter-spacing:-0.134px;-webkit-text-stroke:0.55px currentColor;">Girder Fabrication</div>
<div class="t" style="left:448.20px;top:252.38px;font-size:10.3px;color:#2a1650;letter-spacing:-0.100px;">A0080</div>
<div class="t" style="left:510.00px;top:252.53px;font-size:10px;color:#2a1650;">--</div>
<svg class="a" style="left:616.2px;top:251.82500000000002px;" width="9" height="9" viewBox="0 0 9 9"><circle cx="4.5" cy="4.5" r="4.3" fill="#1d9e55"/><path d="M2.4 4.6 L3.9 6 L6.6 3.2" fill="none" stroke="#e9fff1" stroke-width="1.2"/></svg>
<div class="a" style="left:203.6px;top:267.15px;width:426.9px;height:21.85px;background:#fff;"></div>
<div class="a" style="left:203.6px;top:288.4px;width:426.9px;height:0.8px;background:#e8eaef;"></div>
<div class="a" style="left:436.3px;top:267.15px;width:0.8px;height:21.85px;background:#e6e8ee;"></div>
<div class="a" style="left:498.4px;top:267.15px;width:0.8px;height:21.85px;background:#e6e8ee;"></div>
<div class="a" style="left:604.3px;top:267.15px;width:0.8px;height:21.85px;background:#e6e8ee;"></div>
<div class="t" style="left:171.16px;top:274.28px;font-size:10.2px;color:#3c3e46;">4</div>
<div class="t" style="left:242.00px;top:274.23px;font-size:10.3px;color:#46484f;letter-spacing:-0.456px;">Shop Dwgs R &amp; A</div>
<div class="t" style="left:448.20px;top:274.23px;font-size:10.3px;color:#44464d;letter-spacing:-0.100px;">PRD-0...</div>
<div class="a" style="left:510.2px;top:270.97499999999997px;width:62.3px;height:14.2px;background:#8ae6a4;border-radius:7.1px"></div>
<div class="t" style="left:518.50px;top:274.77px;font-size:9.2px;color:#174a29;font-weight:bold;-webkit-text-stroke:0;letter-spacing:-0.198px;">Completed</div>
<svg class="a" style="left:616.2px;top:273.675px;" width="9" height="9" viewBox="0 0 9 9"><circle cx="4.5" cy="4.5" r="4.3" fill="#1d9e55"/><path d="M2.4 4.6 L3.9 6 L6.6 3.2" fill="none" stroke="#e9fff1" stroke-width="1.2"/></svg>
<div class="a" style="left:203.6px;top:289.0px;width:426.9px;height:21.85px;background:#fff;"></div>
<div class="a" style="left:203.6px;top:310.25px;width:426.9px;height:0.8px;background:#e8eaef;"></div>
<div class="a" style="left:436.3px;top:289.0px;width:0.8px;height:21.85px;background:#e6e8ee;"></div>
<div class="a" style="left:498.4px;top:289.0px;width:0.8px;height:21.85px;background:#e6e8ee;"></div>
<div class="a" style="left:604.3px;top:289.0px;width:0.8px;height:21.85px;background:#e6e8ee;"></div>
<div class="t" style="left:242.00px;top:296.08px;font-size:10.3px;color:#46484f;letter-spacing:-0.481px;">Spans 1 &amp; 2 Girder Fab</div>
<div class="t" style="left:448.20px;top:296.08px;font-size:10.3px;color:#44464d;letter-spacing:-0.100px;">PRD-0...</div>
<div class="a" style="left:510.2px;top:292.825px;width:62.3px;height:14.2px;background:#8ae6a4;border-radius:7.1px"></div>
<div class="t" style="left:518.50px;top:296.62px;font-size:9.2px;color:#174a29;font-weight:bold;-webkit-text-stroke:0;letter-spacing:-0.198px;">Completed</div>
<svg class="a" style="left:616.2px;top:295.52500000000003px;" width="9" height="9" viewBox="0 0 9 9"><circle cx="4.5" cy="4.5" r="4.3" fill="#1d9e55"/><path d="M2.4 4.6 L3.9 6 L6.6 3.2" fill="none" stroke="#e9fff1" stroke-width="1.2"/></svg>
<div class="a" style="left:201px;top:310.85px;width:429.5px;height:21.85px;background:#f7b682;"></div>
<div class="a" style="left:201px;top:332.1px;width:429.5px;height:0.8px;background:rgba(255,255,255,.35);"></div>
<div class="a" style="left:436.3px;top:310.85px;width:0.8px;height:21.85px;background:rgba(255,255,255,.45);"></div>
<div class="a" style="left:498.4px;top:310.85px;width:0.8px;height:21.85px;background:rgba(255,255,255,.45);"></div>
<div class="a" style="left:604.3px;top:310.85px;width:0.8px;height:21.85px;background:rgba(255,255,255,.45);"></div>
<div class="t" style="left:171.16px;top:317.98px;font-size:10.2px;color:#3c3e46;">6</div>
<svg class="a" style="left:219.5px;top:319.77500000000003px;" width="7" height="5" viewBox="0 0 7 5"><path d="M0.8 0.8 L3.5 3.5 L6.2 0.8" fill="none" stroke="#3e2414" stroke-width="1.3"/></svg>
<div class="t" style="left:234.00px;top:317.93px;font-size:10.3px;color:#3e2414;letter-spacing:-0.511px;-webkit-text-stroke:0.55px currentColor;">Span 1 &amp; 2 W</div>
<div class="t" style="left:448.20px;top:317.93px;font-size:10.3px;color:#3e2414;letter-spacing:-0.100px;">A0050</div>
<div class="t" style="left:510.00px;top:318.08px;font-size:10px;color:#3e2414;">--</div>
<svg class="a" style="left:616.2px;top:317.37500000000006px;" width="9" height="9" viewBox="0 0 9 9"><circle cx="4.5" cy="4.5" r="3.8" fill="#b9c5f5" stroke="#2747b8" stroke-width="1.2"/><circle cx="4.5" cy="4.5" r="1.6" fill="#5670d8"/></svg>
<div class="a" style="left:203.8px;top:332.70000000000005px;width:426.7px;height:21.85px;background:#ad80f8;"></div>
<div class="a" style="left:203.8px;top:353.95000000000005px;width:426.7px;height:0.8px;background:rgba(255,255,255,.35);"></div>
<div class="a" style="left:436.3px;top:332.70000000000005px;width:0.8px;height:21.85px;background:rgba(255,255,255,.45);"></div>
<div class="a" style="left:498.4px;top:332.70000000000005px;width:0.8px;height:21.85px;background:rgba(255,255,255,.45);"></div>
<div class="a" style="left:604.3px;top:332.70000000000005px;width:0.8px;height:21.85px;background:rgba(255,255,255,.45);"></div>
<div class="t" style="left:171.16px;top:339.83px;font-size:10.2px;color:#3c3e46;">7</div>
<svg class="a" style="left:225.5px;top:341.62500000000006px;" width="7" height="5" viewBox="0 0 7 5"><path d="M0.8 0.8 L3.5 3.5 L6.2 0.8" fill="none" stroke="#2a1650" stroke-width="1.3"/></svg>
<div class="t" style="left:240.00px;top:339.78px;font-size:10.3px;color:#2a1650;letter-spacing:-0.394px;-webkit-text-stroke:0.55px currentColor;">Erect Girders Span 1 &amp; 2 W</div>
<div class="t" style="left:448.20px;top:339.78px;font-size:10.3px;color:#2a1650;letter-spacing:-0.100px;">A5100</div>
<div class="t" style="left:510.00px;top:339.93px;font-size:10px;color:#2a1650;">--</div>
<svg class="a" style="left:616.2px;top:339.2250000000001px;" width="9" height="9" viewBox="0 0 9 9"><circle cx="4.5" cy="4.5" r="4.3" fill="#1d9e55"/><path d="M2.4 4.6 L3.9 6 L6.6 3.2" fill="none" stroke="#e9fff1" stroke-width="1.2"/></svg>
<div class="a" style="left:206.2px;top:354.55px;width:424.3px;height:21.85px;background:#fff;"></div>
<div class="a" style="left:206.2px;top:375.8px;width:424.3px;height:0.8px;background:#e8eaef;"></div>
<div class="a" style="left:436.3px;top:354.55px;width:0.8px;height:21.85px;background:#e6e8ee;"></div>
<div class="a" style="left:498.4px;top:354.55px;width:0.8px;height:21.85px;background:#e6e8ee;"></div>
<div class="a" style="left:604.3px;top:354.55px;width:0.8px;height:21.85px;background:#e6e8ee;"></div>
<div class="t" style="left:171.16px;top:361.68px;font-size:10.2px;color:#3c3e46;">8</div>
<div class="t" style="left:248.00px;top:361.63px;font-size:10.3px;color:#46484f;letter-spacing:-0.375px;">Erect Girders Span 2W</div>
<div class="t" style="left:448.20px;top:361.63px;font-size:10.3px;color:#44464d;letter-spacing:-0.100px;">A2820</div>
<div class="a" style="left:510.2px;top:358.375px;width:62.3px;height:14.2px;background:#8ae6a4;border-radius:7.1px"></div>
<div class="t" style="left:518.50px;top:362.17px;font-size:9.2px;color:#174a29;font-weight:bold;-webkit-text-stroke:0;letter-spacing:-0.198px;">Completed</div>
<svg class="a" style="left:616.2px;top:361.07500000000005px;" width="9" height="9" viewBox="0 0 9 9"><circle cx="4.5" cy="4.5" r="4.3" fill="#1d9e55"/><path d="M2.4 4.6 L3.9 6 L6.6 3.2" fill="none" stroke="#e9fff1" stroke-width="1.2"/></svg>
<div class="a" style="left:206.2px;top:376.4px;width:424.3px;height:21.85px;background:#fff;"></div>
<div class="a" style="left:206.2px;top:397.65px;width:424.3px;height:0.8px;background:#e8eaef;"></div>
<div class="a" style="left:436.3px;top:376.4px;width:0.8px;height:21.85px;background:#e6e8ee;"></div>
<div class="a" style="left:498.4px;top:376.4px;width:0.8px;height:21.85px;background:#e6e8ee;"></div>
<div class="a" style="left:604.3px;top:376.4px;width:0.8px;height:21.85px;background:#e6e8ee;"></div>
<div class="t" style="left:171.16px;top:383.53px;font-size:10.2px;color:#3c3e46;">9</div>
<div class="t" style="left:248.00px;top:383.48px;font-size:10.3px;color:#46484f;letter-spacing:-0.375px;">Erect Girders Span 1W</div>
<div class="t" style="left:448.20px;top:383.48px;font-size:10.3px;color:#44464d;letter-spacing:-0.100px;">A2830</div>
<div class="a" style="left:510.2px;top:380.22499999999997px;width:62.3px;height:14.2px;background:#8ae6a4;border-radius:7.1px"></div>
<div class="t" style="left:518.50px;top:384.02px;font-size:9.2px;color:#174a29;font-weight:bold;-webkit-text-stroke:0;letter-spacing:-0.198px;">Completed</div>
<svg class="a" style="left:616.2px;top:382.925px;" width="9" height="9" viewBox="0 0 9 9"><circle cx="4.5" cy="4.5" r="4.3" fill="#1d9e55"/><path d="M2.4 4.6 L3.9 6 L6.6 3.2" fill="none" stroke="#e9fff1" stroke-width="1.2"/></svg>
<div class="a" style="left:203.8px;top:398.25px;width:426.7px;height:21.85px;background:#ad80f8;"></div>
<div class="a" style="left:203.8px;top:419.5px;width:426.7px;height:0.8px;background:rgba(255,255,255,.35);"></div>
<div class="a" style="left:436.3px;top:398.25px;width:0.8px;height:21.85px;background:rgba(255,255,255,.45);"></div>
<div class="a" style="left:498.4px;top:398.25px;width:0.8px;height:21.85px;background:rgba(255,255,255,.45);"></div>
<div class="a" style="left:604.3px;top:398.25px;width:0.8px;height:21.85px;background:rgba(255,255,255,.45);"></div>
<div class="t" style="left:168.33px;top:405.38px;font-size:10.2px;color:#3c3e46;">10</div>
<svg class="a" style="left:225.5px;top:407.175px;" width="7" height="5" viewBox="0 0 7 5"><path d="M0.8 0.8 L3.5 3.5 L6.2 0.8" fill="none" stroke="#2a1650" stroke-width="1.3"/></svg>
<div class="t" style="left:240.00px;top:405.33px;font-size:10.3px;color:#2a1650;letter-spacing:-0.484px;-webkit-text-stroke:0.55px currentColor;">Form &amp; Pour Spans 1 &amp; 2</div>
<div class="t" style="left:448.20px;top:405.33px;font-size:10.3px;color:#2a1650;letter-spacing:-0.100px;">A5080</div>
<div class="t" style="left:510.00px;top:405.48px;font-size:10px;color:#2a1650;">--</div>
<svg class="a" style="left:616.2px;top:404.77500000000003px;" width="9" height="9" viewBox="0 0 9 9"><circle cx="4.5" cy="4.5" r="3.8" fill="#b9c5f5" stroke="#2747b8" stroke-width="1.2"/><circle cx="4.5" cy="4.5" r="1.6" fill="#5670d8"/></svg>
<div class="a" style="left:206.2px;top:420.1px;width:424.3px;height:21.85px;background:#fff;"></div>
<div class="a" style="left:206.2px;top:441.35px;width:424.3px;height:0.8px;background:#e8eaef;"></div>
<div class="a" style="left:436.3px;top:420.1px;width:0.8px;height:21.85px;background:#e6e8ee;"></div>
<div class="a" style="left:498.4px;top:420.1px;width:0.8px;height:21.85px;background:#e6e8ee;"></div>
<div class="a" style="left:604.3px;top:420.1px;width:0.8px;height:21.85px;background:#e6e8ee;"></div>
<div class="t" style="left:168.71px;top:427.23px;font-size:10.2px;color:#3c3e46;">11</div>
<div class="t" style="left:248.00px;top:427.18px;font-size:10.3px;color:#46484f;letter-spacing:-0.129px;">Form Span 2W</div>
<div class="t" style="left:448.20px;top:427.18px;font-size:10.3px;color:#44464d;letter-spacing:-0.100px;">A3790</div>
<div class="a" style="left:510.2px;top:423.925px;width:61.5px;height:14.2px;background:#fcefb0;border-radius:7.1px"></div>
<div class="t" style="left:517.85px;top:427.72px;font-size:9.2px;color:#5a4a0e;font-weight:bold;-webkit-text-stroke:0;letter-spacing:-0.397px;">In Progress</div>
<svg class="a" style="left:616.2px;top:426.62500000000006px;" width="9" height="9" viewBox="0 0 9 9"><circle cx="4.5" cy="4.5" r="3.8" fill="#b9c5f5" stroke="#2747b8" stroke-width="1.2"/><circle cx="4.5" cy="4.5" r="1.6" fill="#5670d8"/></svg>
<div class="a" style="left:206.2px;top:441.95000000000005px;width:424.3px;height:21.85px;background:#fff;"></div>
<div class="a" style="left:206.2px;top:463.20000000000005px;width:424.3px;height:0.8px;background:#e8eaef;"></div>
<div class="a" style="left:436.3px;top:441.95000000000005px;width:0.8px;height:21.85px;background:#e6e8ee;"></div>
<div class="a" style="left:498.4px;top:441.95000000000005px;width:0.8px;height:21.85px;background:#e6e8ee;"></div>
<div class="a" style="left:604.3px;top:441.95000000000005px;width:0.8px;height:21.85px;background:#e6e8ee;"></div>
<div class="t" style="left:168.33px;top:449.08px;font-size:10.2px;color:#3c3e46;">12</div>
<div class="t" style="left:248.00px;top:449.03px;font-size:10.3px;color:#46484f;letter-spacing:-0.559px;">Rebar Span 2W</div>
<div class="t" style="left:448.20px;top:449.03px;font-size:10.3px;color:#44464d;letter-spacing:-0.100px;">A3800</div>
<div class="a" style="left:510.2px;top:445.77500000000003px;width:64.3px;height:14.2px;background:#e5e8ef;border-radius:7.1px"></div>
<div class="t" style="left:518.30px;top:449.57px;font-size:9.2px;color:#2f3442;font-weight:bold;-webkit-text-stroke:0;letter-spacing:-0.129px;">Not Started</div>
<div class="a" style="left:206.2px;top:463.80000000000007px;width:424.3px;height:21.85px;background:#fff;"></div>
<div class="a" style="left:206.2px;top:485.05000000000007px;width:424.3px;height:0.8px;background:#e8eaef;"></div>
<div class="a" style="left:436.3px;top:463.80000000000007px;width:0.8px;height:21.85px;background:#e6e8ee;"></div>
<div class="a" style="left:498.4px;top:463.80000000000007px;width:0.8px;height:21.85px;background:#e6e8ee;"></div>
<div class="a" style="left:604.3px;top:463.80000000000007px;width:0.8px;height:21.85px;background:#e6e8ee;"></div>
<div class="t" style="left:168.33px;top:470.93px;font-size:10.2px;color:#3c3e46;">13</div>
<div class="t" style="left:248.00px;top:470.88px;font-size:10.3px;color:#46484f;letter-spacing:-0.504px;">Form Span 1W</div>
<div class="t" style="left:448.20px;top:470.88px;font-size:10.3px;color:#44464d;letter-spacing:-0.100px;">A3830</div>
<div class="a" style="left:510.2px;top:467.62500000000006px;width:64.3px;height:14.2px;background:#e5e8ef;border-radius:7.1px"></div>
<div class="t" style="left:518.30px;top:471.42px;font-size:9.2px;color:#2f3442;font-weight:bold;-webkit-text-stroke:0;letter-spacing:-0.129px;">Not Started</div>
<div class="a" style="left:206.2px;top:485.65px;width:424.3px;height:21.85px;background:#fff;"></div>
<div class="a" style="left:206.2px;top:506.9px;width:424.3px;height:0.8px;background:#e8eaef;"></div>
<div class="a" style="left:436.3px;top:485.65px;width:0.8px;height:21.85px;background:#e6e8ee;"></div>
<div class="a" style="left:498.4px;top:485.65px;width:0.8px;height:21.85px;background:#e6e8ee;"></div>
<div class="a" style="left:604.3px;top:485.65px;width:0.8px;height:21.85px;background:#e6e8ee;"></div>
<div class="t" style="left:168.33px;top:492.78px;font-size:10.2px;color:#3c3e46;">14</div>
<div class="t" style="left:248.00px;top:492.73px;font-size:10.3px;color:#46484f;letter-spacing:-0.514px;">Pour Span 2W</div>
<div class="t" style="left:448.20px;top:492.73px;font-size:10.3px;color:#44464d;letter-spacing:-0.100px;">A3810</div>
<div class="a" style="left:510.2px;top:489.47499999999997px;width:64.3px;height:14.2px;background:#e5e8ef;border-radius:7.1px"></div>
<div class="t" style="left:518.30px;top:493.27px;font-size:9.2px;color:#2f3442;font-weight:bold;-webkit-text-stroke:0;letter-spacing:-0.129px;">Not Started</div>
<div class="a" style="left:206.2px;top:507.5px;width:424.3px;height:21.85px;background:#fff;"></div>
<div class="a" style="left:206.2px;top:528.75px;width:424.3px;height:0.8px;background:#e8eaef;"></div>
<div class="a" style="left:436.3px;top:507.5px;width:0.8px;height:21.85px;background:#e6e8ee;"></div>
<div class="a" style="left:498.4px;top:507.5px;width:0.8px;height:21.85px;background:#e6e8ee;"></div>
<div class="a" style="left:604.3px;top:507.5px;width:0.8px;height:21.85px;background:#e6e8ee;"></div>
<div class="t" style="left:168.33px;top:514.63px;font-size:10.2px;color:#3c3e46;">15</div>
<div class="t" style="left:248.00px;top:514.58px;font-size:10.3px;color:#46484f;letter-spacing:-0.529px;">Cure Span 2W</div>
<div class="t" style="left:448.20px;top:514.58px;font-size:10.3px;color:#44464d;letter-spacing:-0.100px;">A3820</div>
<div class="a" style="left:510.2px;top:511.32499999999993px;width:64.3px;height:14.2px;background:#e5e8ef;border-radius:7.1px"></div>
<div class="t" style="left:518.30px;top:515.12px;font-size:9.2px;color:#2f3442;font-weight:bold;-webkit-text-stroke:0;letter-spacing:-0.129px;">Not Started</div>
<div class="a" style="left:206.2px;top:529.35px;width:424.3px;height:21.85px;background:#fff;"></div>
<div class="a" style="left:206.2px;top:550.6px;width:424.3px;height:0.8px;background:#e8eaef;"></div>
<div class="a" style="left:436.3px;top:529.35px;width:0.8px;height:21.85px;background:#e6e8ee;"></div>
<div class="a" style="left:498.4px;top:529.35px;width:0.8px;height:21.85px;background:#e6e8ee;"></div>
<div class="a" style="left:604.3px;top:529.35px;width:0.8px;height:21.85px;background:#e6e8ee;"></div>
<div class="t" style="left:168.33px;top:536.48px;font-size:10.2px;color:#3c3e46;">16</div>
<div class="t" style="left:248.00px;top:536.43px;font-size:10.3px;color:#46484f;letter-spacing:-0.559px;">Rebar Span 1W</div>
<div class="t" style="left:448.20px;top:536.43px;font-size:10.3px;color:#44464d;letter-spacing:-0.100px;">A3840</div>
<div class="a" style="left:510.2px;top:533.175px;width:64.3px;height:14.2px;background:#e5e8ef;border-radius:7.1px"></div>
<div class="t" style="left:518.30px;top:536.97px;font-size:9.2px;color:#2f3442;font-weight:bold;-webkit-text-stroke:0;letter-spacing:-0.129px;">Not Started</div>
<div class="a" style="left:206.2px;top:551.2px;width:424.3px;height:21.85px;background:#fff;"></div>
<div class="a" style="left:206.2px;top:572.45px;width:424.3px;height:0.8px;background:#e8eaef;"></div>
<div class="a" style="left:436.3px;top:551.2px;width:0.8px;height:21.85px;background:#e6e8ee;"></div>
<div class="a" style="left:498.4px;top:551.2px;width:0.8px;height:21.85px;background:#e6e8ee;"></div>
<div class="a" style="left:604.3px;top:551.2px;width:0.8px;height:21.85px;background:#e6e8ee;"></div>
<div class="t" style="left:168.33px;top:558.33px;font-size:10.2px;color:#3c3e46;">17</div>
<div class="t" style="left:248.00px;top:558.28px;font-size:10.3px;color:#46484f;letter-spacing:-0.481px;">Pour Span 1W</div>
<div class="t" style="left:448.20px;top:558.28px;font-size:10.3px;color:#44464d;letter-spacing:-0.100px;">A3850</div>
<div class="a" style="left:510.2px;top:555.025px;width:64.3px;height:14.2px;background:#e5e8ef;border-radius:7.1px"></div>
<div class="t" style="left:518.30px;top:558.82px;font-size:9.2px;color:#2f3442;font-weight:bold;-webkit-text-stroke:0;letter-spacing:-0.129px;">Not Started</div>
<div class="a" style="left:206.2px;top:573.0500000000001px;width:424.3px;height:21.85px;background:#fff;"></div>
<div class="a" style="left:206.2px;top:594.3000000000001px;width:424.3px;height:0.8px;background:#e8eaef;"></div>
<div class="a" style="left:436.3px;top:573.0500000000001px;width:0.8px;height:21.85px;background:#e6e8ee;"></div>
<div class="a" style="left:498.4px;top:573.0500000000001px;width:0.8px;height:21.85px;background:#e6e8ee;"></div>
<div class="a" style="left:604.3px;top:573.0500000000001px;width:0.8px;height:21.85px;background:#e6e8ee;"></div>
<div class="t" style="left:168.33px;top:580.18px;font-size:10.2px;color:#3c3e46;">18</div>
<div class="t" style="left:248.00px;top:580.13px;font-size:10.3px;color:#46484f;letter-spacing:-0.529px;">Cure Span 1W</div>
<div class="t" style="left:448.20px;top:580.13px;font-size:10.3px;color:#44464d;letter-spacing:-0.100px;">A3860</div>
<div class="a" style="left:510.2px;top:576.875px;width:64.3px;height:14.2px;background:#e5e8ef;border-radius:7.1px"></div>
<div class="t" style="left:518.30px;top:580.67px;font-size:9.2px;color:#2f3442;font-weight:bold;-webkit-text-stroke:0;letter-spacing:-0.129px;">Not Started</div>
<div class="a" style="left:203.8px;top:594.9px;width:426.7px;height:21.85px;background:#fff;"></div>
<div class="a" style="left:203.8px;top:616.15px;width:426.7px;height:0.8px;background:#e8eaef;"></div>
<div class="a" style="left:436.3px;top:594.9px;width:0.8px;height:21.85px;background:#e6e8ee;"></div>
<div class="a" style="left:498.4px;top:594.9px;width:0.8px;height:21.85px;background:#e6e8ee;"></div>
<div class="a" style="left:604.3px;top:594.9px;width:0.8px;height:21.85px;background:#e6e8ee;"></div>
<div class="t" style="left:168.33px;top:602.03px;font-size:10.2px;color:#3c3e46;">19</div>
<div class="t" style="left:242.00px;top:601.98px;font-size:10.3px;color:#46484f;letter-spacing:-0.317px;">Complete Span 1 &amp; 2 Widening</div>
<div class="t" style="left:448.20px;top:601.98px;font-size:10.3px;color:#44464d;letter-spacing:-0.100px;">A3870</div>
<div class="a" style="left:510.2px;top:598.7249999999999px;width:64.3px;height:14.2px;background:#e5e8ef;border-radius:7.1px"></div>
<div class="t" style="left:518.30px;top:602.52px;font-size:9.2px;color:#2f3442;font-weight:bold;-webkit-text-stroke:0;letter-spacing:-0.129px;">Not Started</div>
<svg class="a" style="left:218px;top:207.82500000000002px;" width="10" height="10" viewBox="0 0 10 10"><path d="M5 0.8 L9.2 5 L5 9.2 L0.8 5Z" fill="none" stroke="#2a2a30" stroke-width="1.3"/></svg>
<svg class="a" style="left:229px;top:601.2249999999999px;" width="10" height="10" viewBox="0 0 10 10"><path d="M5 0.6 L9.4 5 L5 9.4 L0.6 5Z" fill="none" stroke="#2a2a30" stroke-width="1.4"/><circle cx="5" cy="5" r="1.3" fill="#2a2a30"/></svg>
<div class="a" style="left:203.8px;top:591.9px;width:426.7px;height:2.5px;background:#a97df6;"></div>
<div class="a" style="left:201px;top:613.35px;width:429.5px;height:2.5px;background:#f0ad7e;"></div>
<div class="a" style="left:151px;top:617.55px;width:480px;height:0.8px;background:#e8eaef;"></div>
<div class="a" style="left:198.6px;top:289.3px;width:431.9px;height:21.450000000000003px;background:transparent;border:2.4px solid #3d52d6;border-right:none"></div>
<svg class="a" style="left:163.5px;top:293.925px;" width="25" height="12" viewBox="0 0 25 12"><path d="M0 1.5 Q0 0 1.5 0 H19.5 L24 6 L19.5 12 H1.5 Q0 12 0 10.5Z" fill="#3f63e6"/></svg>
<div class="t" style="left:171.16px;top:296.13px;font-size:10.2px;color:#fff;">5</div>
<div class="a" style="left:198px;top:617.75px;width:0.8px;height:90px;background:#eceef2;"></div>
<div class="a" style="left:630.5px;top:148px;width:1px;height:572px;background:#e1e4ea;"></div>
<div class="a" style="left:631px;top:705.5px;width:593px;height:14.5px;background:#fafbfc;"></div>
<div class="a" style="left:151px;top:705px;width:1073px;height:1px;background:#e3e5ea;"></div>
<div class="a" style="left:200.8px;top:708.3px;width:263px;height:8px;background:#c9ced6;border-radius:4px"></div>
<div class="a" style="left:631.5px;top:148px;width:576.8px;height:26.3px;background:#f7f8fb;"></div>
<div class="a" style="left:631.5px;top:174.3px;width:576.8px;height:27px;background:#f5f6f9;"></div>
<div class="a" style="left:631.5px;top:148px;width:576.8px;height:0.8px;background:#e8eaf0;"></div>
<div class="a" style="left:631.5px;top:174px;width:576.8px;height:0.8px;background:#e6e8ee;"></div>
<div class="a" style="left:631.5px;top:200.7px;width:576.8px;height:0.8px;background:#e6e8ee;"></div>
<div class="a" style="left:919.3px;top:148px;width:0.9px;height:53px;background:#e3e5eb;"></div>
<div class="a" style="left:727.2px;top:174.3px;width:0.9px;height:27px;background:#eaecf1;"></div>
<div class="a" style="left:823.4px;top:174.3px;width:0.9px;height:27px;background:#eaecf1;"></div>
<div class="a" style="left:1014.8px;top:174.3px;width:0.9px;height:27px;background:#eaecf1;"></div>
<div class="a" style="left:1111.3px;top:174.3px;width:0.9px;height:27px;background:#eaecf1;"></div>
<div class="t" style="left:645.00px;top:156.60px;font-size:10.4px;color:#3a3c44;letter-spacing:-0.406px;">2023</div>
<div class="t" style="left:933.40px;top:156.60px;font-size:10.4px;color:#3a3c44;letter-spacing:-0.306px;">2024</div>
<div class="t" style="left:672.70px;top:184.60px;font-size:10.4px;color:#3a3c44;letter-spacing:-0.638px;">Q2</div>
<div class="t" style="left:769.00px;top:184.60px;font-size:10.4px;color:#3a3c44;letter-spacing:-0.638px;">Q3</div>
<div class="t" style="left:865.00px;top:184.60px;font-size:10.4px;color:#3a3c44;letter-spacing:-0.638px;">Q4</div>
<div class="t" style="left:960.80px;top:184.60px;font-size:10.4px;color:#3a3c44;letter-spacing:-0.638px;">Q1</div>
<div class="t" style="left:1056.90px;top:184.60px;font-size:10.4px;color:#3a3c44;letter-spacing:-0.638px;">Q2</div>
<div class="t" style="left:1153.40px;top:184.60px;font-size:10.4px;color:#3a3c44;letter-spacing:-0.638px;">Q3</div>
<div class="a" style="left:631.5px;top:222.95px;width:576.8px;height:0.8px;background:#eceef2;"></div>
<div class="a" style="left:631.5px;top:244.8px;width:576.8px;height:0.8px;background:#eceef2;"></div>
<div class="a" style="left:631.5px;top:266.65px;width:576.8px;height:0.8px;background:#eceef2;"></div>
<div class="a" style="left:631.5px;top:288.5px;width:576.8px;height:0.8px;background:#eceef2;"></div>
<div class="a" style="left:631.5px;top:310.35px;width:576.8px;height:0.8px;background:#eceef2;"></div>
<div class="a" style="left:631.5px;top:332.20000000000005px;width:576.8px;height:0.8px;background:#eceef2;"></div>
<div class="a" style="left:631.5px;top:354.05px;width:576.8px;height:0.8px;background:#eceef2;"></div>
<div class="a" style="left:631.5px;top:375.9px;width:576.8px;height:0.8px;background:#eceef2;"></div>
<div class="a" style="left:631.5px;top:397.75px;width:576.8px;height:0.8px;background:#eceef2;"></div>
<div class="a" style="left:631.5px;top:419.6px;width:576.8px;height:0.8px;background:#eceef2;"></div>
<div class="a" style="left:631.5px;top:441.45000000000005px;width:576.8px;height:0.8px;background:#eceef2;"></div>
<div class="a" style="left:631.5px;top:463.30000000000007px;width:576.8px;height:0.8px;background:#eceef2;"></div>
<div class="a" style="left:631.5px;top:485.15px;width:576.8px;height:0.8px;background:#eceef2;"></div>
<div class="a" style="left:631.5px;top:507.0px;width:576.8px;height:0.8px;background:#eceef2;"></div>
<div class="a" style="left:631.5px;top:528.85px;width:576.8px;height:0.8px;background:#eceef2;"></div>
<div class="a" style="left:631.5px;top:550.7px;width:576.8px;height:0.8px;background:#eceef2;"></div>
<div class="a" style="left:631.5px;top:572.5500000000001px;width:576.8px;height:0.8px;background:#eceef2;"></div>
<div class="a" style="left:631.5px;top:594.4px;width:576.8px;height:0.8px;background:#eceef2;"></div>
<div class="a" style="left:631.5px;top:616.25px;width:576.8px;height:0.8px;background:#eceef2;"></div>
<div class="a" style="left:1208.3px;top:148px;width:0.9px;height:468.75px;background:#e3e5eb;"></div>
<div class="a" style="left:1211.6px;top:151px;width:7.6px;height:392px;background:#c9ced6;border-radius:4px"></div>
<svg class="a" style="left:0;top:0" width="1224" height="720"><path d="M744 212.525 H765 V266.5 H709.5 V278.075 H726 M737.4 278.075 H752 V288.3 H709.5 V299.925 H726 M780.3 302.7 V365.475 H789 M827 365.475 H842 M847.8 368 V375.8 H772 V387.325 H789 M847.8 375.8 V418.3 H772 V431.02500000000003 H789 M820.8 433.7 V472 M820.8 452.87500000000006 H831 M842 452.87500000000006 H858.3 V485 H819.5 V496.575 H836 M842 474.7250000000001 H862.5 V506.7 H820.3 V518.425 H838 M848.8 518.425 H862.5 V528.3 H821.3 V540.275 H838.5 M849.7 540.275 H866.7 V550 H826.7 V562.125 H844 M855 562.125 H868.3 V572.5 H827.5 V583.975 H844.5 M855.8 583.975 H873.7 V594.2 H822.2 V605.8249999999999 H840.8" fill="none" stroke="#c8cad2" stroke-width="1.1"/></svg>
<svg class="a" style="left:0;top:0" width="1224" height="720"><path d="M722 274.875 L726 278.075 L722 281.275" fill="none" stroke="#c8cad2" stroke-width="1.1"/></svg>
<svg class="a" style="left:0;top:0" width="1224" height="720"><path d="M722 296.725 L726 299.925 L722 303.125" fill="none" stroke="#c8cad2" stroke-width="1.1"/></svg>
<svg class="a" style="left:0;top:0" width="1224" height="720"><path d="M785 362.27500000000003 L789 365.475 L785 368.675" fill="none" stroke="#c8cad2" stroke-width="1.1"/></svg>
<svg class="a" style="left:0;top:0" width="1224" height="720"><path d="M785 384.125 L789 387.325 L785 390.525" fill="none" stroke="#c8cad2" stroke-width="1.1"/></svg>
<svg class="a" style="left:0;top:0" width="1224" height="720"><path d="M785 427.82500000000005 L789 431.02500000000003 L785 434.225" fill="none" stroke="#c8cad2" stroke-width="1.1"/></svg>
<svg class="a" style="left:0;top:0" width="1224" height="720"><path d="M827 449.67500000000007 L831 452.87500000000006 L827 456.07500000000005" fill="none" stroke="#c8cad2" stroke-width="1.1"/></svg>
<svg class="a" style="left:0;top:0" width="1224" height="720"><path d="M832 493.375 L836 496.575 L832 499.775" fill="none" stroke="#c8cad2" stroke-width="1.1"/></svg>
<svg class="a" style="left:0;top:0" width="1224" height="720"><path d="M834 515.2249999999999 L838 518.425 L834 521.625" fill="none" stroke="#c8cad2" stroke-width="1.1"/></svg>
<svg class="a" style="left:0;top:0" width="1224" height="720"><path d="M834.5 537.0749999999999 L838.5 540.275 L834.5 543.475" fill="none" stroke="#c8cad2" stroke-width="1.1"/></svg>
<svg class="a" style="left:0;top:0" width="1224" height="720"><path d="M840 558.925 L844 562.125 L840 565.325" fill="none" stroke="#c8cad2" stroke-width="1.1"/></svg>
<svg class="a" style="left:0;top:0" width="1224" height="720"><path d="M840.5 580.775 L844.5 583.975 L840.5 587.1750000000001" fill="none" stroke="#c8cad2" stroke-width="1.1"/></svg>
<svg class="a" style="left:0;top:0" width="1224" height="720"><path d="M836.8 602.6249999999999 L840.8 605.8249999999999 L836.8 609.025" fill="none" stroke="#c8cad2" stroke-width="1.1"/></svg>
<svg class="a" style="left:0;top:0" width="1224" height="720"><path d="M800.2 201.7 V615" stroke="#3f4185" stroke-width="1.5" stroke-dasharray="4.6 5.7"/></svg>
<svg class="a" style="left:728.8px;top:207.925px;" width="9.2" height="9.2" viewBox="0 0 9.2 9.2"><path d="M4.6 0.7 L8.5 4.6 L4.6 8.5 L0.7 4.6Z" fill="#fff" stroke="#2a2a30" stroke-width="1.3"/></svg>
<div class="t" style="left:758.80px;top:208.77px;font-size:9.1px;color:#3a3b42;letter-spacing:-0.214px;">Start Milestone<i class="dt"></i>07/07/2023</div>
<svg class="a" style="left:715.9px;top:228.875px;" width="11" height="11" viewBox="0 0 11 11"><circle cx="5.5" cy="5.5" r="4.9" fill="#a6e6f8" stroke="#5ccbee" stroke-width="1"/><path d="M3.4 4.6 L5.5 6.7 L7.6 4.6" fill="none" stroke="#1c6a8c" stroke-width="1"/></svg>
<div class="a" style="left:729.3px;top:229.125px;width:124.0px;height:10.5px;background:#8bdef7;border-radius:0.5px;"></div>
<div class="a" style="left:729.3px;top:229.125px;width:36.40000000000009px;height:10.5px;background:#35aee2;border-radius:0.5px;"></div>
<svg class="a" style="left:733.2px;top:231.175px;" width="6.5" height="6.5" viewBox="0 0 6.5 6.5"><rect x="0" y="0" width="6.5" height="6.5" rx="0.6" fill="#0d3559"/><rect x="0.9" y="3.6" width="4.7" height="1.1" fill="#fff" opacity="0.55"/></svg>
<div class="t" style="left:741.00px;top:230.62px;font-size:9.1px;color:#0c3452;letter-spacing:-0.460px;">Widening - East Side<i class="dt"></i><b>352d</b></div>
<svg class="a" style="left:715.9px;top:250.72500000000002px;" width="11" height="11" viewBox="0 0 11 11"><circle cx="5.5" cy="5.5" r="4.9" fill="#d9c8fb" stroke="#a07bf0" stroke-width="1"/><path d="M3.4 4.6 L5.5 6.7 L7.6 4.6" fill="none" stroke="#6a45c8" stroke-width="1"/></svg>
<div class="a" style="left:729.3px;top:250.97500000000002px;width:63.90000000000009px;height:10.5px;background:#8a5cf0;border-radius:0.5px;"></div>
<svg class="a" style="left:733.2px;top:253.02500000000003px;" width="6.5" height="6.5" viewBox="0 0 6.5 6.5"><rect x="0" y="0" width="6.5" height="6.5" rx="0.6" fill="#1f1446"/><rect x="0.9" y="3.6" width="4.7" height="1.1" fill="#fff" opacity="0.55"/></svg>
<div class="t" style="left:741.00px;top:252.47px;font-size:9.1px;color:#2a1f4a;letter-spacing:-0.469px;">Girder Fabrication<i class="dt"></i><b>61d</b></div>
<div class="a" style="left:729px;top:275.775px;width:8.399999999999977px;height:4.6px;background:#b597f7;border-radius:1px;"></div>
<div class="t" style="left:752.70px;top:274.32px;font-size:9.1px;color:#3a3b42;letter-spacing:-0.617px;">Shop Dwgs R &amp; A<i class="dt"></i><b>0d</b></div>
<div class="a" style="left:729px;top:297.425px;width:64px;height:5px;background:#a27ef4;border-radius:1px;"></div>
<div class="t" style="left:808.50px;top:296.17px;font-size:9.1px;color:#3a3b42;letter-spacing:-0.564px;">Spans 1 &amp; 2 Girder Fab<i class="dt"></i><b>61d</b></div>
<svg class="a" style="left:778.3px;top:316.27500000000003px;" width="11" height="11" viewBox="0 0 11 11"><circle cx="5.5" cy="5.5" r="4.9" fill="#f9cdb0" stroke="#f0a070" stroke-width="1"/><path d="M3.4 4.6 L5.5 6.7 L7.6 4.6" fill="none" stroke="#c0602a" stroke-width="1"/></svg>
<div class="a" style="left:792.2px;top:316.52500000000003px;width:60.799999999999955px;height:10.5px;background:#f6ad86;border-radius:0.5px;"></div>
<div class="a" style="left:792.2px;top:316.52500000000003px;width:39.5px;height:10.5px;background:#ee6834;border-radius:0.5px;"></div>
<svg class="a" style="left:796.2px;top:318.57500000000005px;" width="6.5" height="6.5" viewBox="0 0 6.5 6.5"><rect x="0" y="0" width="6.5" height="6.5" rx="0.6" fill="#3a1a0c"/><rect x="0.9" y="3.6" width="4.7" height="1.1" fill="#fff" opacity="0.55"/></svg>
<div class="t" style="left:803.50px;top:318.02px;font-size:9.1px;color:#3a2418;letter-spacing:-0.511px;">Span 1 &amp; 2 W<i class="dt"></i><b>64d</b></div>
<svg class="a" style="left:778.3px;top:338.12500000000006px;" width="11" height="11" viewBox="0 0 11 11"><circle cx="5.5" cy="5.5" r="4.9" fill="#dccafb" stroke="#a07bf0" stroke-width="1"/><path d="M3.4 4.6 L5.5 6.7 L7.6 4.6" fill="none" stroke="#6a45c8" stroke-width="1"/></svg>
<div class="a" style="left:792.2px;top:338.37500000000006px;width:36.5px;height:10.5px;background:#8457f1;border-radius:0.5px;"></div>
<svg class="a" style="left:796.2px;top:340.42500000000007px;" width="6.5" height="6.5" viewBox="0 0 6.5 6.5"><rect x="0" y="0" width="6.5" height="6.5" rx="0.6" fill="#1f1446"/><rect x="0.9" y="3.6" width="4.7" height="1.1" fill="#fff" opacity="0.55"/></svg>
<div class="t" style="left:803.50px;top:339.87px;font-size:9.1px;color:#2e2a44;letter-spacing:-0.475px;">Erect Girders Span 1 &amp; 2 W<i class="dt"></i><b>35d</b></div>
<div class="a" style="left:792.2px;top:363.175px;width:34.799999999999955px;height:4.6px;background:#a583f5;border-radius:1px;"></div>
<div class="t" style="left:842.00px;top:361.72px;font-size:9.1px;color:#3a3b42;letter-spacing:-0.523px;">Erect Girders Span 2W<i class="dt"></i><b>22d</b></div>
<div class="a" style="left:792.2px;top:384.97499999999997px;width:36.59999999999991px;height:4.7px;background:#a583f5;border-radius:1px;"></div>
<div class="t" style="left:844.50px;top:383.57px;font-size:9.1px;color:#3a3b42;letter-spacing:-0.544px;">Erect Girders Span 1W<i class="dt"></i><b>24d</b></div>
<svg class="a" style="left:778.3px;top:403.675px;" width="11" height="11" viewBox="0 0 11 11"><circle cx="5.5" cy="5.5" r="4.9" fill="#dccafb" stroke="#a07bf0" stroke-width="1"/><path d="M3.4 4.6 L5.5 6.7 L7.6 4.6" fill="none" stroke="#6a45c8" stroke-width="1"/></svg>
<div class="a" style="left:792.2px;top:404.175px;width:60.299999999999955px;height:10px;background:#b9a0f8;border-radius:0.5px;border:1px solid #9a78f2"></div>
<div class="a" style="left:792.2px;top:404.175px;width:6.2999999999999545px;height:10px;background:#7e52ee;border-radius:0.5px;"></div>
<svg class="a" style="left:796.2px;top:405.975px;" width="6.5" height="6.5" viewBox="0 0 6.5 6.5"><rect x="0" y="0" width="6.5" height="6.5" rx="0.6" fill="#1f1446"/><rect x="0.9" y="3.6" width="4.7" height="1.1" fill="#fff" opacity="0.55"/></svg>
<div class="t" style="left:803.50px;top:405.42px;font-size:9.1px;color:#2e2a44;letter-spacing:-0.546px;">Form &amp; Pour Spans 1 &amp; 2<i class="dt"></i><b>58d</b></div>
<div class="a" style="left:792.2px;top:428.52500000000003px;width:41.09999999999991px;height:5px;background:#b99ff8;border-radius:1px;"></div>
<div class="t" style="left:848.80px;top:427.27px;font-size:9.1px;color:#3a3b42;letter-spacing:-0.601px;">Form Span 2W<i class="dt"></i><b>27d</b></div>
<div class="a" style="left:834px;top:450.27500000000003px;width:8px;height:5.2px;background:#c3adf9;border-radius:1.5px;border:1px solid #a886f4"></div>
<div class="t" style="left:857.00px;top:449.12px;font-size:9.1px;color:#3a3b42;letter-spacing:-0.681px;">Rebar Span 2W<i class="dt"></i><b>3d</b></div>
<div class="a" style="left:834px;top:472.12500000000006px;width:8px;height:5.2px;background:#c3adf9;border-radius:1.5px;border:1px solid #a886f4"></div>
<div class="t" style="left:857.00px;top:470.97px;font-size:9.1px;color:#3a3b42;letter-spacing:-0.655px;">Form Span 1W<i class="dt"></i><b>5d</b></div>
<div class="a" style="left:839.7px;top:493.97499999999997px;width:7.7999999999999545px;height:5.2px;background:#c3adf9;border-radius:1.5px;border:1px solid #a886f4"></div>
<div class="t" style="left:862.50px;top:492.82px;font-size:9.1px;color:#3a3b42;letter-spacing:-0.654px;">Pour Span 2W<i class="dt"></i><b>1d</b></div>
<div class="a" style="left:840.5px;top:515.8249999999999px;width:8.299999999999955px;height:5.2px;background:#c3adf9;border-radius:1.5px;border:1px solid #a886f4"></div>
<div class="t" style="left:863.80px;top:514.67px;font-size:9.1px;color:#3a3b42;letter-spacing:-0.634px;">Cure Span 2W<i class="dt"></i><b>5d</b></div>
<div class="a" style="left:841.3px;top:537.675px;width:8.400000000000091px;height:5.2px;background:#c3adf9;border-radius:1.5px;border:1px solid #a886f4"></div>
<div class="t" style="left:864.70px;top:536.52px;font-size:9.1px;color:#3a3b42;letter-spacing:-0.695px;">Rebar Span 1W<i class="dt"></i><b>3d</b></div>
<div class="a" style="left:847px;top:559.525px;width:8px;height:5.2px;background:#c3adf9;border-radius:1.5px;border:1px solid #a886f4"></div>
<div class="t" style="left:870.30px;top:558.37px;font-size:9.1px;color:#3a3b42;letter-spacing:-0.647px;">Pour Span 1W<i class="dt"></i><b>1d</b></div>
<div class="a" style="left:847.5px;top:581.375px;width:8.299999999999955px;height:5.2px;background:#c3adf9;border-radius:1.5px;border:1px solid #a886f4"></div>
<div class="t" style="left:870.60px;top:580.22px;font-size:9.1px;color:#3a3b42;letter-spacing:-0.648px;">Cure Span 1W<i class="dt"></i><b>5d</b></div>
<svg class="a" style="left:848px;top:600.525px;" width="10.6" height="10.6" viewBox="0 0 10.6 10.6"><path d="M5.3 0.8 L9.8 5.3 L5.3 9.8 L0.8 5.3Z" fill="#fff" stroke="#2a2a30" stroke-width="1.4"/><circle cx="5.3" cy="5.3" r="1.4" fill="#2a2a30"/></svg>
<div class="t" style="left:878.70px;top:602.07px;font-size:9.1px;color:#3a3b42;letter-spacing:-0.316px;">Complete Span 1 &amp; 2 Widening<i class="dt"></i>10/30/2023</div>
<svg class="a" style="left:0;top:0" width="1224" height="720"><path d="M815.8 390 V474.7250000000001 H830" fill="none" stroke="#4a5dd6" stroke-width="1.4"/><path d="M827 471.3250000000001 L832 474.7250000000001 L827 478.12500000000006Z" fill="#4a5dd6" stroke="#4a5dd6" stroke-width="0.8"/></svg>
<div class="a" style="left:811.4px;top:676.3px;width:66.6px;height:27px;background:#fff;border:1px solid #d3d6de;border-radius:5px;box-shadow:0 1px 2px rgba(0,0,0,.06)"></div>
<svg class="a" style="left:821px;top:683px;" width="15" height="14" viewBox="0 0 15 14"><g fill="#2c2e36"><rect x="0" y="0.5" width="3" height="3" rx="0.6"/><rect x="0" y="5.5" width="3" height="3" rx="0.6"/><rect x="0" y="10.5" width="3" height="3" rx="0.6"/><rect x="4.8" y="1.3" width="10" height="1.5" rx="0.7"/><rect x="4.8" y="6.3" width="10" height="1.5" rx="0.7"/><rect x="4.8" y="11.3" width="10" height="1.5" rx="0.7"/></g></svg>
<svg class="a" style="left:854px;top:683px;" width="15" height="14" viewBox="0 0 15 14"><path d="M3 2 H11 Q13.5 2 13.5 4.5 Q13.5 7 11 7 H4 Q1.5 7 1.5 9.5 Q1.5 12 4 12 H11" fill="none" stroke="#2c2e36" stroke-width="1.6"/><circle cx="2.2" cy="2" r="1.7" fill="#2c2e36"/><circle cx="12.5" cy="12" r="1.7" fill="#2c2e36"/></svg>
<div class="a" style="left:886.6px;top:676.3px;width:274.4px;height:27px;background:#fff;border:1px solid #d3d6de;border-radius:5px;box-shadow:0 1px 2px rgba(0,0,0,.06)"></div>
<div class="a" style="left:897.5px;top:689.4px;width:12px;height:1.6px;background:#2c2e36;"></div>
<div class="t" style="left:932.65px;top:685.80px;font-size:10.4px;color:#2c2e36;letter-spacing:-0.175px;">Year</div>
<div class="a" style="left:976.5px;top:689.4px;width:12px;height:1.6px;background:#2c2e36;"></div>
<div class="a" style="left:981.7px;top:684.2px;width:1.6px;height:12px;background:#2c2e36;"></div>
<div class="a" style="left:1003.3px;top:681.5px;width:0.9px;height:17px;background:#d8dbe2;"></div>
<div class="t" style="left:1017.50px;top:685.80px;font-size:10.4px;color:#2c2e36;letter-spacing:-0.347px;">Today</div>
<div class="a" style="left:1058px;top:681.5px;width:0.9px;height:17px;background:#d8dbe2;"></div>
<svg class="a" style="left:1071.5px;top:683px;" width="14" height="14" viewBox="0 0 14 14"><rect x="0.8" y="0.8" width="12.4" height="12.4" rx="1.5" fill="none" stroke="#2c2e36" stroke-width="1.4"/><path d="M3.5 6.5 V3.5 H6.5 M7.5 10.5 H10.5 V7.5 M3.5 3.5 L6 6 M10.5 10.5 L8 8" fill="none" stroke="#2c2e36" stroke-width="1.2"/></svg>
<div class="a" style="left:1099px;top:679px;width:24.9px;height:21.5px;background:#1c2b8e;border-radius:3px"></div>
<svg class="a" style="left:1104px;top:683px;" width="15" height="14" viewBox="0 0 15 14"><path d="M2.5 2.5 H6 V10.5 H12" fill="none" stroke="#fff" stroke-width="1.6"/><circle cx="2.5" cy="2.5" r="1.8" fill="#fff"/><path d="M10 8 L12.8 10.5 L10 13" fill="none" stroke="#fff" stroke-width="1.5"/></svg>
<svg class="a" style="left:1137px;top:684px;" width="14" height="12" viewBox="0 0 14 12"><g stroke="#2c2e36" stroke-width="1.4"><path d="M0 2 H14 M0 6 H14 M0 10 H14"/></g><g fill="#fff" stroke="#2c2e36" stroke-width="1.2"><rect x="8" y="0.4" width="2.4" height="3.2"/><rect x="3" y="4.4" width="2.4" height="3.2"/><rect x="8.5" y="8.4" width="2.4" height="3.2"/></g></svg>
<div class="a" style="left:1177.5px;top:674.5px;width:30px;height:30px;background:#fff;border-radius:50%;box-shadow:0 0 4px rgba(0,0,0,.12)"></div>
<svg class="a" style="left:1184px;top:681px;" width="17" height="17" viewBox="0 0 17 17"><path d="M8.5 0.5 L16.5 8.5 L8.5 16.5 L0.5 8.5Z" fill="none"/><path d="M8.5 0.8 L12.5 4.8 L8.5 8.5Z" fill="#f4b400"/><path d="M12.5 4.8 L16.2 8.5 L8.5 8.5Z" fill="#f08a24"/><path d="M16.2 8.5 L8.5 16.2 L8.5 8.5Z" fill="#e0245e"/><path d="M8.5 16.2 L0.8 8.5 L8.5 8.5Z" fill="#3b4fd0"/><path d="M0.8 8.5 L8.5 0.8 L8.5 8.5Z" fill="#27a8e0"/><path d="M8.5 4 L13 8.5 L8.5 13 L4 8.5Z" fill="#fff"/></svg>
<div class="t" style="left:1140.50px;top:706.57px;font-size:7.4px;color:#4f86c6;letter-spacing:-0.141px;">Zustand/Recoil DevTools</div>
</body></html>
